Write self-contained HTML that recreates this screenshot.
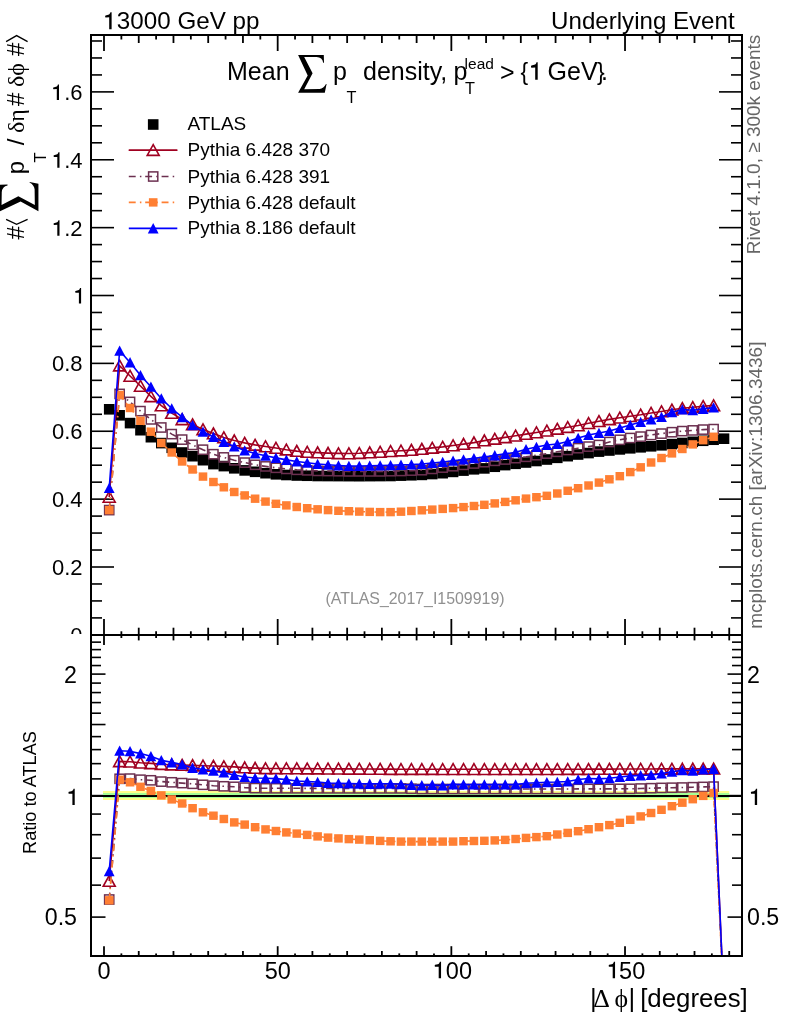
<!DOCTYPE html>
<html><head><meta charset="utf-8"><style>html,body{margin:0;padding:0;background:#fff;}svg{display:block;will-change:transform;}</style></head>
<body><svg width="786" height="1024" viewBox="0 0 786 1024">
<rect width="786" height="1024" fill="#fff"/>
<defs><clipPath id="cTop"><rect x="91.0" y="35.0" width="651.0" height="600.0"/></clipPath>
<clipPath id="cBot"><rect x="91.0" y="635.0" width="651.0" height="321.0"/></clipPath>
<path id="sigma" d="M0,0 L25.7,0 L25.9,7.6 L25.1,7.6 Q24.2,2.4 18.5,2.0 L6.1,1.8 L14.5,18.1 L6.1,34.1 L21.5,33.9 Q25.5,33.4 27.9,29.0 L28.5,29.0 L26.7,37.6 L0,37.6 L9.6,20.3 Z"/>
<path id="one" d="M0,0 L100,0 L100,-704 L50,-704 C40,-655 15,-610 -40,-598 L-150,-568 C-168,-564 -170,-545 -168,-522 C-166,-492 -158,-484 -140,-486 L0,-490 Z"/>
</defs>
<text x="116.86" y="29.2" font-family="Liberation Sans, sans-serif" font-size="24.2">3000 GeV pp</text>
<use href="#one" transform="translate(109.20,29.20) scale(0.0242)"/>
<text x="734.6" y="29.2" font-family="Liberation Sans, sans-serif" font-size="24.1" text-anchor="end">Underlying Event</text>
<text x="227" y="79.8" font-family="Liberation Sans, sans-serif" font-size="25">Mean</text>
<use href="#sigma" x="298.1" y="55.1"/>
<use href="#one" transform="translate(535.20,79.80) scale(0.0250)"/>
<text font-family="Liberation Sans, sans-serif" font-size="25"><tspan x="333" y="79.8">p</tspan><tspan x="346.6" y="103" font-size="16.3">T</tspan><tspan x="363" y="79.8">density,</tspan><tspan x="453.5" y="79.8">p</tspan><tspan x="465.0" y="93.5" font-size="16.3">T</tspan><tspan x="464.6" y="69" font-size="15.5">lead</tspan><tspan x="500.1" y="81.1">&gt;</tspan><tspan x="520.6" y="79.8" font-size="23">{</tspan><tspan x="547.6" y="79.8">GeV</tspan><tspan x="596.9" y="79.8" font-size="23">}</tspan><tspan x="601.0" y="79.8">.</tspan></text>
<line x1="104.00" y1="35.00" x2="104.00" y2="51.00" stroke="#000" stroke-width="1.8" />
<line x1="104.00" y1="635.00" x2="104.00" y2="619.00" stroke="#000" stroke-width="1.8" />
<line x1="104.00" y1="635.00" x2="104.00" y2="645.00" stroke="#000" stroke-width="1.8" />
<line x1="104.00" y1="956.00" x2="104.00" y2="946.20" stroke="#000" stroke-width="1.8" />
<line x1="121.37" y1="35.00" x2="121.37" y2="39.50" stroke="#000" stroke-width="1.8" />
<line x1="121.37" y1="635.00" x2="121.37" y2="631.30" stroke="#000" stroke-width="1.8" />
<line x1="121.37" y1="635.00" x2="121.37" y2="638.00" stroke="#000" stroke-width="1.8" />
<line x1="121.37" y1="956.00" x2="121.37" y2="953.40" stroke="#000" stroke-width="1.8" />
<line x1="138.74" y1="35.00" x2="138.74" y2="43.00" stroke="#000" stroke-width="1.8" />
<line x1="138.74" y1="635.00" x2="138.74" y2="627.70" stroke="#000" stroke-width="1.8" />
<line x1="138.74" y1="635.00" x2="138.74" y2="640.40" stroke="#000" stroke-width="1.8" />
<line x1="138.74" y1="956.00" x2="138.74" y2="951.00" stroke="#000" stroke-width="1.8" />
<line x1="156.10" y1="35.00" x2="156.10" y2="39.50" stroke="#000" stroke-width="1.8" />
<line x1="156.10" y1="635.00" x2="156.10" y2="631.30" stroke="#000" stroke-width="1.8" />
<line x1="156.10" y1="635.00" x2="156.10" y2="638.00" stroke="#000" stroke-width="1.8" />
<line x1="156.10" y1="956.00" x2="156.10" y2="953.40" stroke="#000" stroke-width="1.8" />
<line x1="173.47" y1="35.00" x2="173.47" y2="43.00" stroke="#000" stroke-width="1.8" />
<line x1="173.47" y1="635.00" x2="173.47" y2="627.70" stroke="#000" stroke-width="1.8" />
<line x1="173.47" y1="635.00" x2="173.47" y2="640.40" stroke="#000" stroke-width="1.8" />
<line x1="173.47" y1="956.00" x2="173.47" y2="951.00" stroke="#000" stroke-width="1.8" />
<line x1="190.84" y1="35.00" x2="190.84" y2="39.50" stroke="#000" stroke-width="1.8" />
<line x1="190.84" y1="635.00" x2="190.84" y2="631.30" stroke="#000" stroke-width="1.8" />
<line x1="190.84" y1="635.00" x2="190.84" y2="638.00" stroke="#000" stroke-width="1.8" />
<line x1="190.84" y1="956.00" x2="190.84" y2="953.40" stroke="#000" stroke-width="1.8" />
<line x1="208.20" y1="35.00" x2="208.20" y2="43.00" stroke="#000" stroke-width="1.8" />
<line x1="208.20" y1="635.00" x2="208.20" y2="627.70" stroke="#000" stroke-width="1.8" />
<line x1="208.20" y1="635.00" x2="208.20" y2="640.40" stroke="#000" stroke-width="1.8" />
<line x1="208.20" y1="956.00" x2="208.20" y2="951.00" stroke="#000" stroke-width="1.8" />
<line x1="225.57" y1="35.00" x2="225.57" y2="39.50" stroke="#000" stroke-width="1.8" />
<line x1="225.57" y1="635.00" x2="225.57" y2="631.30" stroke="#000" stroke-width="1.8" />
<line x1="225.57" y1="635.00" x2="225.57" y2="638.00" stroke="#000" stroke-width="1.8" />
<line x1="225.57" y1="956.00" x2="225.57" y2="953.40" stroke="#000" stroke-width="1.8" />
<line x1="242.94" y1="35.00" x2="242.94" y2="43.00" stroke="#000" stroke-width="1.8" />
<line x1="242.94" y1="635.00" x2="242.94" y2="627.70" stroke="#000" stroke-width="1.8" />
<line x1="242.94" y1="635.00" x2="242.94" y2="640.40" stroke="#000" stroke-width="1.8" />
<line x1="242.94" y1="956.00" x2="242.94" y2="951.00" stroke="#000" stroke-width="1.8" />
<line x1="260.31" y1="35.00" x2="260.31" y2="39.50" stroke="#000" stroke-width="1.8" />
<line x1="260.31" y1="635.00" x2="260.31" y2="631.30" stroke="#000" stroke-width="1.8" />
<line x1="260.31" y1="635.00" x2="260.31" y2="638.00" stroke="#000" stroke-width="1.8" />
<line x1="260.31" y1="956.00" x2="260.31" y2="953.40" stroke="#000" stroke-width="1.8" />
<line x1="277.68" y1="35.00" x2="277.68" y2="51.00" stroke="#000" stroke-width="1.8" />
<line x1="277.68" y1="635.00" x2="277.68" y2="619.00" stroke="#000" stroke-width="1.8" />
<line x1="277.68" y1="635.00" x2="277.68" y2="645.00" stroke="#000" stroke-width="1.8" />
<line x1="277.68" y1="956.00" x2="277.68" y2="946.20" stroke="#000" stroke-width="1.8" />
<line x1="295.04" y1="35.00" x2="295.04" y2="39.50" stroke="#000" stroke-width="1.8" />
<line x1="295.04" y1="635.00" x2="295.04" y2="631.30" stroke="#000" stroke-width="1.8" />
<line x1="295.04" y1="635.00" x2="295.04" y2="638.00" stroke="#000" stroke-width="1.8" />
<line x1="295.04" y1="956.00" x2="295.04" y2="953.40" stroke="#000" stroke-width="1.8" />
<line x1="312.41" y1="35.00" x2="312.41" y2="43.00" stroke="#000" stroke-width="1.8" />
<line x1="312.41" y1="635.00" x2="312.41" y2="627.70" stroke="#000" stroke-width="1.8" />
<line x1="312.41" y1="635.00" x2="312.41" y2="640.40" stroke="#000" stroke-width="1.8" />
<line x1="312.41" y1="956.00" x2="312.41" y2="951.00" stroke="#000" stroke-width="1.8" />
<line x1="329.78" y1="35.00" x2="329.78" y2="39.50" stroke="#000" stroke-width="1.8" />
<line x1="329.78" y1="635.00" x2="329.78" y2="631.30" stroke="#000" stroke-width="1.8" />
<line x1="329.78" y1="635.00" x2="329.78" y2="638.00" stroke="#000" stroke-width="1.8" />
<line x1="329.78" y1="956.00" x2="329.78" y2="953.40" stroke="#000" stroke-width="1.8" />
<line x1="347.14" y1="35.00" x2="347.14" y2="43.00" stroke="#000" stroke-width="1.8" />
<line x1="347.14" y1="635.00" x2="347.14" y2="627.70" stroke="#000" stroke-width="1.8" />
<line x1="347.14" y1="635.00" x2="347.14" y2="640.40" stroke="#000" stroke-width="1.8" />
<line x1="347.14" y1="956.00" x2="347.14" y2="951.00" stroke="#000" stroke-width="1.8" />
<line x1="364.51" y1="35.00" x2="364.51" y2="39.50" stroke="#000" stroke-width="1.8" />
<line x1="364.51" y1="635.00" x2="364.51" y2="631.30" stroke="#000" stroke-width="1.8" />
<line x1="364.51" y1="635.00" x2="364.51" y2="638.00" stroke="#000" stroke-width="1.8" />
<line x1="364.51" y1="956.00" x2="364.51" y2="953.40" stroke="#000" stroke-width="1.8" />
<line x1="381.88" y1="35.00" x2="381.88" y2="43.00" stroke="#000" stroke-width="1.8" />
<line x1="381.88" y1="635.00" x2="381.88" y2="627.70" stroke="#000" stroke-width="1.8" />
<line x1="381.88" y1="635.00" x2="381.88" y2="640.40" stroke="#000" stroke-width="1.8" />
<line x1="381.88" y1="956.00" x2="381.88" y2="951.00" stroke="#000" stroke-width="1.8" />
<line x1="399.25" y1="35.00" x2="399.25" y2="39.50" stroke="#000" stroke-width="1.8" />
<line x1="399.25" y1="635.00" x2="399.25" y2="631.30" stroke="#000" stroke-width="1.8" />
<line x1="399.25" y1="635.00" x2="399.25" y2="638.00" stroke="#000" stroke-width="1.8" />
<line x1="399.25" y1="956.00" x2="399.25" y2="953.40" stroke="#000" stroke-width="1.8" />
<line x1="416.62" y1="35.00" x2="416.62" y2="43.00" stroke="#000" stroke-width="1.8" />
<line x1="416.62" y1="635.00" x2="416.62" y2="627.70" stroke="#000" stroke-width="1.8" />
<line x1="416.62" y1="635.00" x2="416.62" y2="640.40" stroke="#000" stroke-width="1.8" />
<line x1="416.62" y1="956.00" x2="416.62" y2="951.00" stroke="#000" stroke-width="1.8" />
<line x1="433.98" y1="35.00" x2="433.98" y2="39.50" stroke="#000" stroke-width="1.8" />
<line x1="433.98" y1="635.00" x2="433.98" y2="631.30" stroke="#000" stroke-width="1.8" />
<line x1="433.98" y1="635.00" x2="433.98" y2="638.00" stroke="#000" stroke-width="1.8" />
<line x1="433.98" y1="956.00" x2="433.98" y2="953.40" stroke="#000" stroke-width="1.8" />
<line x1="451.35" y1="35.00" x2="451.35" y2="51.00" stroke="#000" stroke-width="1.8" />
<line x1="451.35" y1="635.00" x2="451.35" y2="619.00" stroke="#000" stroke-width="1.8" />
<line x1="451.35" y1="635.00" x2="451.35" y2="645.00" stroke="#000" stroke-width="1.8" />
<line x1="451.35" y1="956.00" x2="451.35" y2="946.20" stroke="#000" stroke-width="1.8" />
<line x1="468.72" y1="35.00" x2="468.72" y2="39.50" stroke="#000" stroke-width="1.8" />
<line x1="468.72" y1="635.00" x2="468.72" y2="631.30" stroke="#000" stroke-width="1.8" />
<line x1="468.72" y1="635.00" x2="468.72" y2="638.00" stroke="#000" stroke-width="1.8" />
<line x1="468.72" y1="956.00" x2="468.72" y2="953.40" stroke="#000" stroke-width="1.8" />
<line x1="486.08" y1="35.00" x2="486.08" y2="43.00" stroke="#000" stroke-width="1.8" />
<line x1="486.08" y1="635.00" x2="486.08" y2="627.70" stroke="#000" stroke-width="1.8" />
<line x1="486.08" y1="635.00" x2="486.08" y2="640.40" stroke="#000" stroke-width="1.8" />
<line x1="486.08" y1="956.00" x2="486.08" y2="951.00" stroke="#000" stroke-width="1.8" />
<line x1="503.45" y1="35.00" x2="503.45" y2="39.50" stroke="#000" stroke-width="1.8" />
<line x1="503.45" y1="635.00" x2="503.45" y2="631.30" stroke="#000" stroke-width="1.8" />
<line x1="503.45" y1="635.00" x2="503.45" y2="638.00" stroke="#000" stroke-width="1.8" />
<line x1="503.45" y1="956.00" x2="503.45" y2="953.40" stroke="#000" stroke-width="1.8" />
<line x1="520.82" y1="35.00" x2="520.82" y2="43.00" stroke="#000" stroke-width="1.8" />
<line x1="520.82" y1="635.00" x2="520.82" y2="627.70" stroke="#000" stroke-width="1.8" />
<line x1="520.82" y1="635.00" x2="520.82" y2="640.40" stroke="#000" stroke-width="1.8" />
<line x1="520.82" y1="956.00" x2="520.82" y2="951.00" stroke="#000" stroke-width="1.8" />
<line x1="538.19" y1="35.00" x2="538.19" y2="39.50" stroke="#000" stroke-width="1.8" />
<line x1="538.19" y1="635.00" x2="538.19" y2="631.30" stroke="#000" stroke-width="1.8" />
<line x1="538.19" y1="635.00" x2="538.19" y2="638.00" stroke="#000" stroke-width="1.8" />
<line x1="538.19" y1="956.00" x2="538.19" y2="953.40" stroke="#000" stroke-width="1.8" />
<line x1="555.56" y1="35.00" x2="555.56" y2="43.00" stroke="#000" stroke-width="1.8" />
<line x1="555.56" y1="635.00" x2="555.56" y2="627.70" stroke="#000" stroke-width="1.8" />
<line x1="555.56" y1="635.00" x2="555.56" y2="640.40" stroke="#000" stroke-width="1.8" />
<line x1="555.56" y1="956.00" x2="555.56" y2="951.00" stroke="#000" stroke-width="1.8" />
<line x1="572.92" y1="35.00" x2="572.92" y2="39.50" stroke="#000" stroke-width="1.8" />
<line x1="572.92" y1="635.00" x2="572.92" y2="631.30" stroke="#000" stroke-width="1.8" />
<line x1="572.92" y1="635.00" x2="572.92" y2="638.00" stroke="#000" stroke-width="1.8" />
<line x1="572.92" y1="956.00" x2="572.92" y2="953.40" stroke="#000" stroke-width="1.8" />
<line x1="590.29" y1="35.00" x2="590.29" y2="43.00" stroke="#000" stroke-width="1.8" />
<line x1="590.29" y1="635.00" x2="590.29" y2="627.70" stroke="#000" stroke-width="1.8" />
<line x1="590.29" y1="635.00" x2="590.29" y2="640.40" stroke="#000" stroke-width="1.8" />
<line x1="590.29" y1="956.00" x2="590.29" y2="951.00" stroke="#000" stroke-width="1.8" />
<line x1="607.66" y1="35.00" x2="607.66" y2="39.50" stroke="#000" stroke-width="1.8" />
<line x1="607.66" y1="635.00" x2="607.66" y2="631.30" stroke="#000" stroke-width="1.8" />
<line x1="607.66" y1="635.00" x2="607.66" y2="638.00" stroke="#000" stroke-width="1.8" />
<line x1="607.66" y1="956.00" x2="607.66" y2="953.40" stroke="#000" stroke-width="1.8" />
<line x1="625.02" y1="35.00" x2="625.02" y2="51.00" stroke="#000" stroke-width="1.8" />
<line x1="625.02" y1="635.00" x2="625.02" y2="619.00" stroke="#000" stroke-width="1.8" />
<line x1="625.02" y1="635.00" x2="625.02" y2="645.00" stroke="#000" stroke-width="1.8" />
<line x1="625.02" y1="956.00" x2="625.02" y2="946.20" stroke="#000" stroke-width="1.8" />
<line x1="642.39" y1="35.00" x2="642.39" y2="39.50" stroke="#000" stroke-width="1.8" />
<line x1="642.39" y1="635.00" x2="642.39" y2="631.30" stroke="#000" stroke-width="1.8" />
<line x1="642.39" y1="635.00" x2="642.39" y2="638.00" stroke="#000" stroke-width="1.8" />
<line x1="642.39" y1="956.00" x2="642.39" y2="953.40" stroke="#000" stroke-width="1.8" />
<line x1="659.76" y1="35.00" x2="659.76" y2="43.00" stroke="#000" stroke-width="1.8" />
<line x1="659.76" y1="635.00" x2="659.76" y2="627.70" stroke="#000" stroke-width="1.8" />
<line x1="659.76" y1="635.00" x2="659.76" y2="640.40" stroke="#000" stroke-width="1.8" />
<line x1="659.76" y1="956.00" x2="659.76" y2="951.00" stroke="#000" stroke-width="1.8" />
<line x1="677.13" y1="35.00" x2="677.13" y2="39.50" stroke="#000" stroke-width="1.8" />
<line x1="677.13" y1="635.00" x2="677.13" y2="631.30" stroke="#000" stroke-width="1.8" />
<line x1="677.13" y1="635.00" x2="677.13" y2="638.00" stroke="#000" stroke-width="1.8" />
<line x1="677.13" y1="956.00" x2="677.13" y2="953.40" stroke="#000" stroke-width="1.8" />
<line x1="694.50" y1="35.00" x2="694.50" y2="43.00" stroke="#000" stroke-width="1.8" />
<line x1="694.50" y1="635.00" x2="694.50" y2="627.70" stroke="#000" stroke-width="1.8" />
<line x1="694.50" y1="635.00" x2="694.50" y2="640.40" stroke="#000" stroke-width="1.8" />
<line x1="694.50" y1="956.00" x2="694.50" y2="951.00" stroke="#000" stroke-width="1.8" />
<line x1="711.86" y1="35.00" x2="711.86" y2="39.50" stroke="#000" stroke-width="1.8" />
<line x1="711.86" y1="635.00" x2="711.86" y2="631.30" stroke="#000" stroke-width="1.8" />
<line x1="711.86" y1="635.00" x2="711.86" y2="638.00" stroke="#000" stroke-width="1.8" />
<line x1="711.86" y1="956.00" x2="711.86" y2="953.40" stroke="#000" stroke-width="1.8" />
<line x1="729.23" y1="35.00" x2="729.23" y2="43.00" stroke="#000" stroke-width="1.8" />
<line x1="729.23" y1="635.00" x2="729.23" y2="627.70" stroke="#000" stroke-width="1.8" />
<line x1="729.23" y1="635.00" x2="729.23" y2="640.40" stroke="#000" stroke-width="1.8" />
<line x1="729.23" y1="956.00" x2="729.23" y2="951.00" stroke="#000" stroke-width="1.8" />
<line x1="91.00" y1="634.87" x2="114.00" y2="634.87" stroke="#000" stroke-width="1.6" />
<line x1="742.00" y1="634.87" x2="719.00" y2="634.87" stroke="#000" stroke-width="1.6" />
<line x1="91.00" y1="617.90" x2="102.00" y2="617.90" stroke="#000" stroke-width="1.6" />
<line x1="742.00" y1="617.90" x2="731.00" y2="617.90" stroke="#000" stroke-width="1.6" />
<line x1="91.00" y1="600.93" x2="102.00" y2="600.93" stroke="#000" stroke-width="1.6" />
<line x1="742.00" y1="600.93" x2="731.00" y2="600.93" stroke="#000" stroke-width="1.6" />
<line x1="91.00" y1="583.97" x2="102.00" y2="583.97" stroke="#000" stroke-width="1.6" />
<line x1="742.00" y1="583.97" x2="731.00" y2="583.97" stroke="#000" stroke-width="1.6" />
<line x1="91.00" y1="567.00" x2="114.00" y2="567.00" stroke="#000" stroke-width="1.6" />
<line x1="742.00" y1="567.00" x2="719.00" y2="567.00" stroke="#000" stroke-width="1.6" />
<line x1="91.00" y1="550.03" x2="102.00" y2="550.03" stroke="#000" stroke-width="1.6" />
<line x1="742.00" y1="550.03" x2="731.00" y2="550.03" stroke="#000" stroke-width="1.6" />
<line x1="91.00" y1="533.06" x2="102.00" y2="533.06" stroke="#000" stroke-width="1.6" />
<line x1="742.00" y1="533.06" x2="731.00" y2="533.06" stroke="#000" stroke-width="1.6" />
<line x1="91.00" y1="516.09" x2="102.00" y2="516.09" stroke="#000" stroke-width="1.6" />
<line x1="742.00" y1="516.09" x2="731.00" y2="516.09" stroke="#000" stroke-width="1.6" />
<line x1="91.00" y1="499.13" x2="114.00" y2="499.13" stroke="#000" stroke-width="1.6" />
<line x1="742.00" y1="499.13" x2="719.00" y2="499.13" stroke="#000" stroke-width="1.6" />
<line x1="91.00" y1="482.16" x2="102.00" y2="482.16" stroke="#000" stroke-width="1.6" />
<line x1="742.00" y1="482.16" x2="731.00" y2="482.16" stroke="#000" stroke-width="1.6" />
<line x1="91.00" y1="465.19" x2="102.00" y2="465.19" stroke="#000" stroke-width="1.6" />
<line x1="742.00" y1="465.19" x2="731.00" y2="465.19" stroke="#000" stroke-width="1.6" />
<line x1="91.00" y1="448.22" x2="102.00" y2="448.22" stroke="#000" stroke-width="1.6" />
<line x1="742.00" y1="448.22" x2="731.00" y2="448.22" stroke="#000" stroke-width="1.6" />
<line x1="91.00" y1="431.25" x2="114.00" y2="431.25" stroke="#000" stroke-width="1.6" />
<line x1="742.00" y1="431.25" x2="719.00" y2="431.25" stroke="#000" stroke-width="1.6" />
<line x1="91.00" y1="414.29" x2="102.00" y2="414.29" stroke="#000" stroke-width="1.6" />
<line x1="742.00" y1="414.29" x2="731.00" y2="414.29" stroke="#000" stroke-width="1.6" />
<line x1="91.00" y1="397.32" x2="102.00" y2="397.32" stroke="#000" stroke-width="1.6" />
<line x1="742.00" y1="397.32" x2="731.00" y2="397.32" stroke="#000" stroke-width="1.6" />
<line x1="91.00" y1="380.35" x2="102.00" y2="380.35" stroke="#000" stroke-width="1.6" />
<line x1="742.00" y1="380.35" x2="731.00" y2="380.35" stroke="#000" stroke-width="1.6" />
<line x1="91.00" y1="363.38" x2="114.00" y2="363.38" stroke="#000" stroke-width="1.6" />
<line x1="742.00" y1="363.38" x2="719.00" y2="363.38" stroke="#000" stroke-width="1.6" />
<line x1="91.00" y1="346.41" x2="102.00" y2="346.41" stroke="#000" stroke-width="1.6" />
<line x1="742.00" y1="346.41" x2="731.00" y2="346.41" stroke="#000" stroke-width="1.6" />
<line x1="91.00" y1="329.45" x2="102.00" y2="329.45" stroke="#000" stroke-width="1.6" />
<line x1="742.00" y1="329.45" x2="731.00" y2="329.45" stroke="#000" stroke-width="1.6" />
<line x1="91.00" y1="312.48" x2="102.00" y2="312.48" stroke="#000" stroke-width="1.6" />
<line x1="742.00" y1="312.48" x2="731.00" y2="312.48" stroke="#000" stroke-width="1.6" />
<line x1="91.00" y1="295.51" x2="114.00" y2="295.51" stroke="#000" stroke-width="1.6" />
<line x1="742.00" y1="295.51" x2="719.00" y2="295.51" stroke="#000" stroke-width="1.6" />
<line x1="91.00" y1="278.54" x2="102.00" y2="278.54" stroke="#000" stroke-width="1.6" />
<line x1="742.00" y1="278.54" x2="731.00" y2="278.54" stroke="#000" stroke-width="1.6" />
<line x1="91.00" y1="261.57" x2="102.00" y2="261.57" stroke="#000" stroke-width="1.6" />
<line x1="742.00" y1="261.57" x2="731.00" y2="261.57" stroke="#000" stroke-width="1.6" />
<line x1="91.00" y1="244.61" x2="102.00" y2="244.61" stroke="#000" stroke-width="1.6" />
<line x1="742.00" y1="244.61" x2="731.00" y2="244.61" stroke="#000" stroke-width="1.6" />
<line x1="91.00" y1="227.64" x2="114.00" y2="227.64" stroke="#000" stroke-width="1.6" />
<line x1="742.00" y1="227.64" x2="719.00" y2="227.64" stroke="#000" stroke-width="1.6" />
<line x1="91.00" y1="210.67" x2="102.00" y2="210.67" stroke="#000" stroke-width="1.6" />
<line x1="742.00" y1="210.67" x2="731.00" y2="210.67" stroke="#000" stroke-width="1.6" />
<line x1="91.00" y1="193.70" x2="102.00" y2="193.70" stroke="#000" stroke-width="1.6" />
<line x1="742.00" y1="193.70" x2="731.00" y2="193.70" stroke="#000" stroke-width="1.6" />
<line x1="91.00" y1="176.73" x2="102.00" y2="176.73" stroke="#000" stroke-width="1.6" />
<line x1="742.00" y1="176.73" x2="731.00" y2="176.73" stroke="#000" stroke-width="1.6" />
<line x1="91.00" y1="159.77" x2="114.00" y2="159.77" stroke="#000" stroke-width="1.6" />
<line x1="742.00" y1="159.77" x2="719.00" y2="159.77" stroke="#000" stroke-width="1.6" />
<line x1="91.00" y1="142.80" x2="102.00" y2="142.80" stroke="#000" stroke-width="1.6" />
<line x1="742.00" y1="142.80" x2="731.00" y2="142.80" stroke="#000" stroke-width="1.6" />
<line x1="91.00" y1="125.83" x2="102.00" y2="125.83" stroke="#000" stroke-width="1.6" />
<line x1="742.00" y1="125.83" x2="731.00" y2="125.83" stroke="#000" stroke-width="1.6" />
<line x1="91.00" y1="108.86" x2="102.00" y2="108.86" stroke="#000" stroke-width="1.6" />
<line x1="742.00" y1="108.86" x2="731.00" y2="108.86" stroke="#000" stroke-width="1.6" />
<line x1="91.00" y1="91.89" x2="114.00" y2="91.89" stroke="#000" stroke-width="1.6" />
<line x1="742.00" y1="91.89" x2="719.00" y2="91.89" stroke="#000" stroke-width="1.6" />
<line x1="91.00" y1="74.93" x2="102.00" y2="74.93" stroke="#000" stroke-width="1.6" />
<line x1="742.00" y1="74.93" x2="731.00" y2="74.93" stroke="#000" stroke-width="1.6" />
<line x1="91.00" y1="57.96" x2="102.00" y2="57.96" stroke="#000" stroke-width="1.6" />
<line x1="742.00" y1="57.96" x2="731.00" y2="57.96" stroke="#000" stroke-width="1.6" />
<line x1="91.00" y1="40.99" x2="102.00" y2="40.99" stroke="#000" stroke-width="1.6" />
<line x1="742.00" y1="40.99" x2="731.00" y2="40.99" stroke="#000" stroke-width="1.6" />
<line x1="91.00" y1="956.21" x2="101.00" y2="956.21" stroke="#000" stroke-width="1.6" />
<line x1="742.00" y1="956.21" x2="732.00" y2="956.21" stroke="#000" stroke-width="1.6" />
<line x1="91.00" y1="917.10" x2="105.50" y2="917.10" stroke="#000" stroke-width="1.6" />
<line x1="742.00" y1="917.10" x2="727.50" y2="917.10" stroke="#000" stroke-width="1.6" />
<line x1="91.00" y1="885.14" x2="101.00" y2="885.14" stroke="#000" stroke-width="1.6" />
<line x1="742.00" y1="885.14" x2="732.00" y2="885.14" stroke="#000" stroke-width="1.6" />
<line x1="91.00" y1="858.12" x2="101.00" y2="858.12" stroke="#000" stroke-width="1.6" />
<line x1="742.00" y1="858.12" x2="732.00" y2="858.12" stroke="#000" stroke-width="1.6" />
<line x1="91.00" y1="834.71" x2="101.00" y2="834.71" stroke="#000" stroke-width="1.6" />
<line x1="742.00" y1="834.71" x2="732.00" y2="834.71" stroke="#000" stroke-width="1.6" />
<line x1="91.00" y1="814.07" x2="101.00" y2="814.07" stroke="#000" stroke-width="1.6" />
<line x1="742.00" y1="814.07" x2="732.00" y2="814.07" stroke="#000" stroke-width="1.6" />
<line x1="91.00" y1="795.60" x2="105.50" y2="795.60" stroke="#000" stroke-width="1.6" />
<line x1="742.00" y1="795.60" x2="727.50" y2="795.60" stroke="#000" stroke-width="1.6" />
<line x1="91.00" y1="778.89" x2="101.00" y2="778.89" stroke="#000" stroke-width="1.6" />
<line x1="742.00" y1="778.89" x2="732.00" y2="778.89" stroke="#000" stroke-width="1.6" />
<line x1="91.00" y1="763.64" x2="101.00" y2="763.64" stroke="#000" stroke-width="1.6" />
<line x1="742.00" y1="763.64" x2="732.00" y2="763.64" stroke="#000" stroke-width="1.6" />
<line x1="91.00" y1="749.61" x2="101.00" y2="749.61" stroke="#000" stroke-width="1.6" />
<line x1="742.00" y1="749.61" x2="732.00" y2="749.61" stroke="#000" stroke-width="1.6" />
<line x1="91.00" y1="736.62" x2="101.00" y2="736.62" stroke="#000" stroke-width="1.6" />
<line x1="742.00" y1="736.62" x2="732.00" y2="736.62" stroke="#000" stroke-width="1.6" />
<line x1="91.00" y1="724.53" x2="105.50" y2="724.53" stroke="#000" stroke-width="1.6" />
<line x1="742.00" y1="724.53" x2="727.50" y2="724.53" stroke="#000" stroke-width="1.6" />
<line x1="91.00" y1="713.22" x2="101.00" y2="713.22" stroke="#000" stroke-width="1.6" />
<line x1="742.00" y1="713.22" x2="732.00" y2="713.22" stroke="#000" stroke-width="1.6" />
<line x1="91.00" y1="702.59" x2="101.00" y2="702.59" stroke="#000" stroke-width="1.6" />
<line x1="742.00" y1="702.59" x2="732.00" y2="702.59" stroke="#000" stroke-width="1.6" />
<line x1="91.00" y1="692.57" x2="101.00" y2="692.57" stroke="#000" stroke-width="1.6" />
<line x1="742.00" y1="692.57" x2="732.00" y2="692.57" stroke="#000" stroke-width="1.6" />
<line x1="91.00" y1="683.10" x2="101.00" y2="683.10" stroke="#000" stroke-width="1.6" />
<line x1="742.00" y1="683.10" x2="732.00" y2="683.10" stroke="#000" stroke-width="1.6" />
<line x1="91.00" y1="674.10" x2="105.50" y2="674.10" stroke="#000" stroke-width="1.6" />
<line x1="742.00" y1="674.10" x2="727.50" y2="674.10" stroke="#000" stroke-width="1.6" />
<line x1="91.00" y1="665.55" x2="101.00" y2="665.55" stroke="#000" stroke-width="1.6" />
<line x1="742.00" y1="665.55" x2="732.00" y2="665.55" stroke="#000" stroke-width="1.6" />
<line x1="91.00" y1="657.40" x2="101.00" y2="657.40" stroke="#000" stroke-width="1.6" />
<line x1="742.00" y1="657.40" x2="732.00" y2="657.40" stroke="#000" stroke-width="1.6" />
<line x1="91.00" y1="649.61" x2="101.00" y2="649.61" stroke="#000" stroke-width="1.6" />
<line x1="742.00" y1="649.61" x2="732.00" y2="649.61" stroke="#000" stroke-width="1.6" />
<line x1="91.00" y1="642.15" x2="101.00" y2="642.15" stroke="#000" stroke-width="1.6" />
<line x1="742.00" y1="642.15" x2="732.00" y2="642.15" stroke="#000" stroke-width="1.6" />
<line x1="91.00" y1="634.99" x2="101.00" y2="634.99" stroke="#000" stroke-width="1.6" />
<line x1="742.00" y1="634.99" x2="732.00" y2="634.99" stroke="#000" stroke-width="1.6" />
<rect x="103.0" y="791" width="626.2" height="9" fill="#ffff8c"/>
<rect x="103.0" y="793" width="626.2" height="5" fill="#a5ff96"/>
<line x1="91.00" y1="796.00" x2="742.00" y2="796.00" stroke="#000" stroke-width="2" />
<g clip-path="url(#cTop)">
<rect x="103.91" y="404.00" width="10.6" height="10.6" fill="#000"/>
<rect x="114.33" y="410.00" width="10.6" height="10.6" fill="#000"/>
<rect x="124.75" y="417.80" width="10.6" height="10.6" fill="#000"/>
<rect x="135.17" y="424.90" width="10.6" height="10.6" fill="#000"/>
<rect x="145.59" y="431.90" width="10.6" height="10.6" fill="#000"/>
<rect x="156.01" y="437.80" width="10.6" height="10.6" fill="#000"/>
<rect x="166.43" y="442.50" width="10.6" height="10.6" fill="#000"/>
<rect x="176.85" y="447.20" width="10.6" height="10.6" fill="#000"/>
<rect x="187.27" y="450.90" width="10.6" height="10.6" fill="#000"/>
<rect x="197.69" y="454.90" width="10.6" height="10.6" fill="#000"/>
<rect x="208.12" y="458.80" width="10.6" height="10.6" fill="#000"/>
<rect x="218.54" y="460.80" width="10.6" height="10.6" fill="#000"/>
<rect x="228.96" y="463.00" width="10.6" height="10.6" fill="#000"/>
<rect x="239.38" y="465.10" width="10.6" height="10.6" fill="#000"/>
<rect x="249.80" y="466.50" width="10.6" height="10.6" fill="#000"/>
<rect x="260.22" y="467.90" width="10.6" height="10.6" fill="#000"/>
<rect x="270.64" y="469.00" width="10.6" height="10.6" fill="#000"/>
<rect x="281.06" y="469.70" width="10.6" height="10.6" fill="#000"/>
<rect x="291.48" y="470.20" width="10.6" height="10.6" fill="#000"/>
<rect x="301.90" y="470.45" width="10.6" height="10.6" fill="#000"/>
<rect x="312.32" y="470.70" width="10.6" height="10.6" fill="#000"/>
<rect x="322.74" y="470.75" width="10.6" height="10.6" fill="#000"/>
<rect x="333.16" y="470.80" width="10.6" height="10.6" fill="#000"/>
<rect x="343.58" y="470.85" width="10.6" height="10.6" fill="#000"/>
<rect x="354.00" y="470.90" width="10.6" height="10.6" fill="#000"/>
<rect x="364.42" y="470.83" width="10.6" height="10.6" fill="#000"/>
<rect x="374.84" y="470.77" width="10.6" height="10.6" fill="#000"/>
<rect x="385.26" y="470.70" width="10.6" height="10.6" fill="#000"/>
<rect x="395.68" y="470.33" width="10.6" height="10.6" fill="#000"/>
<rect x="406.10" y="469.97" width="10.6" height="10.6" fill="#000"/>
<rect x="416.53" y="469.60" width="10.6" height="10.6" fill="#000"/>
<rect x="426.95" y="468.75" width="10.6" height="10.6" fill="#000"/>
<rect x="437.37" y="467.90" width="10.6" height="10.6" fill="#000"/>
<rect x="447.79" y="466.60" width="10.6" height="10.6" fill="#000"/>
<rect x="458.21" y="465.30" width="10.6" height="10.6" fill="#000"/>
<rect x="468.63" y="464.00" width="10.6" height="10.6" fill="#000"/>
<rect x="479.05" y="463.10" width="10.6" height="10.6" fill="#000"/>
<rect x="489.47" y="461.45" width="10.6" height="10.6" fill="#000"/>
<rect x="499.89" y="459.80" width="10.6" height="10.6" fill="#000"/>
<rect x="510.31" y="458.50" width="10.6" height="10.6" fill="#000"/>
<rect x="520.73" y="457.20" width="10.6" height="10.6" fill="#000"/>
<rect x="531.15" y="455.70" width="10.6" height="10.6" fill="#000"/>
<rect x="541.57" y="454.20" width="10.6" height="10.6" fill="#000"/>
<rect x="551.99" y="452.53" width="10.6" height="10.6" fill="#000"/>
<rect x="562.41" y="450.87" width="10.6" height="10.6" fill="#000"/>
<rect x="572.83" y="449.20" width="10.6" height="10.6" fill="#000"/>
<rect x="583.25" y="447.75" width="10.6" height="10.6" fill="#000"/>
<rect x="593.67" y="446.30" width="10.6" height="10.6" fill="#000"/>
<rect x="604.09" y="445.20" width="10.6" height="10.6" fill="#000"/>
<rect x="614.51" y="444.10" width="10.6" height="10.6" fill="#000"/>
<rect x="624.94" y="443.00" width="10.6" height="10.6" fill="#000"/>
<rect x="635.36" y="442.00" width="10.6" height="10.6" fill="#000"/>
<rect x="645.78" y="441.00" width="10.6" height="10.6" fill="#000"/>
<rect x="656.20" y="440.00" width="10.6" height="10.6" fill="#000"/>
<rect x="666.62" y="438.83" width="10.6" height="10.6" fill="#000"/>
<rect x="677.04" y="437.67" width="10.6" height="10.6" fill="#000"/>
<rect x="687.46" y="436.50" width="10.6" height="10.6" fill="#000"/>
<rect x="697.88" y="435.47" width="10.6" height="10.6" fill="#000"/>
<rect x="708.30" y="434.43" width="10.6" height="10.6" fill="#000"/>
<rect x="718.72" y="433.40" width="10.6" height="10.6" fill="#000"/>
<path d="M109.21,491.40 L115.21,502.20 L103.21,502.20 Z" fill="none" stroke="#a00020" stroke-width="1.6"/>
<path d="M119.63,360.10 L125.63,370.90 L113.63,370.90 Z" fill="none" stroke="#a00020" stroke-width="1.6"/>
<path d="M130.05,370.40 L136.05,381.20 L124.05,381.20 Z" fill="none" stroke="#a00020" stroke-width="1.6"/>
<path d="M140.47,380.40 L146.47,391.20 L134.47,391.20 Z" fill="none" stroke="#a00020" stroke-width="1.6"/>
<path d="M150.89,390.80 L156.89,401.60 L144.89,401.60 Z" fill="none" stroke="#a00020" stroke-width="1.6"/>
<path d="M161.31,400.00 L167.31,410.80 L155.31,410.80 Z" fill="none" stroke="#a00020" stroke-width="1.6"/>
<path d="M171.73,407.50 L177.73,418.30 L165.73,418.30 Z" fill="none" stroke="#a00020" stroke-width="1.6"/>
<path d="M182.15,413.80 L188.15,424.60 L176.15,424.60 Z" fill="none" stroke="#a00020" stroke-width="1.6"/>
<path d="M192.57,418.90 L198.57,429.70 L186.57,429.70 Z" fill="none" stroke="#a00020" stroke-width="1.6"/>
<path d="M202.99,423.80 L208.99,434.60 L196.99,434.60 Z" fill="none" stroke="#a00020" stroke-width="1.6"/>
<path d="M213.42,428.00 L219.42,438.80 L207.42,438.80 Z" fill="none" stroke="#a00020" stroke-width="1.6"/>
<path d="M223.84,431.80 L229.84,442.60 L217.84,442.60 Z" fill="none" stroke="#a00020" stroke-width="1.6"/>
<path d="M234.26,435.00 L240.26,445.80 L228.26,445.80 Z" fill="none" stroke="#a00020" stroke-width="1.6"/>
<path d="M244.68,437.30 L250.68,448.10 L238.68,448.10 Z" fill="none" stroke="#a00020" stroke-width="1.6"/>
<path d="M255.10,439.30 L261.10,450.10 L249.10,450.10 Z" fill="none" stroke="#a00020" stroke-width="1.6"/>
<path d="M265.52,440.90 L271.52,451.70 L259.52,451.70 Z" fill="none" stroke="#a00020" stroke-width="1.6"/>
<path d="M275.94,442.40 L281.94,453.20 L269.94,453.20 Z" fill="none" stroke="#a00020" stroke-width="1.6"/>
<path d="M286.36,444.10 L292.36,454.90 L280.36,454.90 Z" fill="none" stroke="#a00020" stroke-width="1.6"/>
<path d="M296.78,445.50 L302.78,456.30 L290.78,456.30 Z" fill="none" stroke="#a00020" stroke-width="1.6"/>
<path d="M307.20,446.40 L313.20,457.20 L301.20,457.20 Z" fill="none" stroke="#a00020" stroke-width="1.6"/>
<path d="M317.62,447.00 L323.62,457.80 L311.62,457.80 Z" fill="none" stroke="#a00020" stroke-width="1.6"/>
<path d="M328.04,447.50 L334.04,458.30 L322.04,458.30 Z" fill="none" stroke="#a00020" stroke-width="1.6"/>
<path d="M338.46,447.80 L344.46,458.60 L332.46,458.60 Z" fill="none" stroke="#a00020" stroke-width="1.6"/>
<path d="M348.88,447.90 L354.88,458.70 L342.88,458.70 Z" fill="none" stroke="#a00020" stroke-width="1.6"/>
<path d="M359.30,447.60 L365.30,458.40 L353.30,458.40 Z" fill="none" stroke="#a00020" stroke-width="1.6"/>
<path d="M369.72,447.00 L375.72,457.80 L363.72,457.80 Z" fill="none" stroke="#a00020" stroke-width="1.6"/>
<path d="M380.14,446.40 L386.14,457.20 L374.14,457.20 Z" fill="none" stroke="#a00020" stroke-width="1.6"/>
<path d="M390.56,445.70 L396.56,456.50 L384.56,456.50 Z" fill="none" stroke="#a00020" stroke-width="1.6"/>
<path d="M400.98,445.10 L406.98,455.90 L394.98,455.90 Z" fill="none" stroke="#a00020" stroke-width="1.6"/>
<path d="M411.40,444.50 L417.40,455.30 L405.40,455.30 Z" fill="none" stroke="#a00020" stroke-width="1.6"/>
<path d="M421.83,443.50 L427.83,454.30 L415.83,454.30 Z" fill="none" stroke="#a00020" stroke-width="1.6"/>
<path d="M432.25,442.30 L438.25,453.10 L426.25,453.10 Z" fill="none" stroke="#a00020" stroke-width="1.6"/>
<path d="M442.67,441.30 L448.67,452.10 L436.67,452.10 Z" fill="none" stroke="#a00020" stroke-width="1.6"/>
<path d="M453.09,439.90 L459.09,450.70 L447.09,450.70 Z" fill="none" stroke="#a00020" stroke-width="1.6"/>
<path d="M463.51,438.50 L469.51,449.30 L457.51,449.30 Z" fill="none" stroke="#a00020" stroke-width="1.6"/>
<path d="M473.93,437.00 L479.93,447.80 L467.93,447.80 Z" fill="none" stroke="#a00020" stroke-width="1.6"/>
<path d="M484.35,435.00 L490.35,445.80 L478.35,445.80 Z" fill="none" stroke="#a00020" stroke-width="1.6"/>
<path d="M494.77,433.30 L500.77,444.10 L488.77,444.10 Z" fill="none" stroke="#a00020" stroke-width="1.6"/>
<path d="M505.19,431.80 L511.19,442.60 L499.19,442.60 Z" fill="none" stroke="#a00020" stroke-width="1.6"/>
<path d="M515.61,430.20 L521.61,441.00 L509.61,441.00 Z" fill="none" stroke="#a00020" stroke-width="1.6"/>
<path d="M526.03,428.50 L532.03,439.30 L520.03,439.30 Z" fill="none" stroke="#a00020" stroke-width="1.6"/>
<path d="M536.45,426.90 L542.45,437.70 L530.45,437.70 Z" fill="none" stroke="#a00020" stroke-width="1.6"/>
<path d="M546.87,425.20 L552.87,436.00 L540.87,436.00 Z" fill="none" stroke="#a00020" stroke-width="1.6"/>
<path d="M557.29,423.30 L563.29,434.10 L551.29,434.10 Z" fill="none" stroke="#a00020" stroke-width="1.6"/>
<path d="M567.71,421.60 L573.71,432.40 L561.71,432.40 Z" fill="none" stroke="#a00020" stroke-width="1.6"/>
<path d="M578.13,419.90 L584.13,430.70 L572.13,430.70 Z" fill="none" stroke="#a00020" stroke-width="1.6"/>
<path d="M588.55,417.70 L594.55,428.50 L582.55,428.50 Z" fill="none" stroke="#a00020" stroke-width="1.6"/>
<path d="M598.97,415.70 L604.97,426.50 L592.97,426.50 Z" fill="none" stroke="#a00020" stroke-width="1.6"/>
<path d="M609.39,413.80 L615.39,424.60 L603.39,424.60 Z" fill="none" stroke="#a00020" stroke-width="1.6"/>
<path d="M619.81,412.20 L625.81,423.00 L613.81,423.00 Z" fill="none" stroke="#a00020" stroke-width="1.6"/>
<path d="M630.24,410.70 L636.24,421.50 L624.24,421.50 Z" fill="none" stroke="#a00020" stroke-width="1.6"/>
<path d="M640.66,409.20 L646.66,420.00 L634.66,420.00 Z" fill="none" stroke="#a00020" stroke-width="1.6"/>
<path d="M651.08,407.40 L657.08,418.20 L645.08,418.20 Z" fill="none" stroke="#a00020" stroke-width="1.6"/>
<path d="M661.50,405.90 L667.50,416.70 L655.50,416.70 Z" fill="none" stroke="#a00020" stroke-width="1.6"/>
<path d="M671.92,404.20 L677.92,415.00 L665.92,415.00 Z" fill="none" stroke="#a00020" stroke-width="1.6"/>
<path d="M682.34,402.70 L688.34,413.50 L676.34,413.50 Z" fill="none" stroke="#a00020" stroke-width="1.6"/>
<path d="M692.76,401.70 L698.76,412.50 L686.76,412.50 Z" fill="none" stroke="#a00020" stroke-width="1.6"/>
<path d="M703.18,400.60 L709.18,411.40 L697.18,411.40 Z" fill="none" stroke="#a00020" stroke-width="1.6"/>
<path d="M713.60,399.80 L719.60,410.60 L707.60,410.60 Z" fill="none" stroke="#a00020" stroke-width="1.6"/>
<polyline points="109.21,497.00 119.63,365.70 130.05,376.00 140.47,386.00 150.89,396.40 161.31,405.60 171.73,413.10 182.15,419.40 192.57,424.50 202.99,429.40 213.42,433.60 223.84,437.40 234.26,440.60 244.68,442.90 255.10,444.90 265.52,446.50 275.94,448.00 286.36,449.70 296.78,451.10 307.20,452.00 317.62,452.60 328.04,453.10 338.46,453.40 348.88,453.50 359.30,453.20 369.72,452.60 380.14,452.00 390.56,451.30 400.98,450.70 411.40,450.10 421.83,449.10 432.25,447.90 442.67,446.90 453.09,445.50 463.51,444.10 473.93,442.60 484.35,440.60 494.77,438.90 505.19,437.40 515.61,435.80 526.03,434.10 536.45,432.50 546.87,430.80 557.29,428.90 567.71,427.20 578.13,425.50 588.55,423.30 598.97,421.30 609.39,419.40 619.81,417.80 630.24,416.30 640.66,414.80 651.08,413.00 661.50,411.50 671.92,409.80 682.34,408.30 692.76,407.30 703.18,406.20 713.60,405.40" fill="none" stroke="#a00020" stroke-width="1.6" />
<rect x="104.61" y="505.50" width="9.2" height="9.2" fill="none" stroke="#6c3050" stroke-width="1.5"/>
<rect x="115.03" y="389.30" width="9.2" height="9.2" fill="none" stroke="#6c3050" stroke-width="1.5"/>
<rect x="125.45" y="397.30" width="9.2" height="9.2" fill="none" stroke="#6c3050" stroke-width="1.5"/>
<rect x="135.87" y="406.50" width="9.2" height="9.2" fill="none" stroke="#6c3050" stroke-width="1.5"/>
<rect x="146.29" y="414.80" width="9.2" height="9.2" fill="none" stroke="#6c3050" stroke-width="1.5"/>
<rect x="156.71" y="422.90" width="9.2" height="9.2" fill="none" stroke="#6c3050" stroke-width="1.5"/>
<rect x="167.13" y="429.50" width="9.2" height="9.2" fill="none" stroke="#6c3050" stroke-width="1.5"/>
<rect x="177.55" y="435.00" width="9.2" height="9.2" fill="none" stroke="#6c3050" stroke-width="1.5"/>
<rect x="187.97" y="440.30" width="9.2" height="9.2" fill="none" stroke="#6c3050" stroke-width="1.5"/>
<rect x="198.39" y="445.10" width="9.2" height="9.2" fill="none" stroke="#6c3050" stroke-width="1.5"/>
<rect x="208.82" y="449.60" width="9.2" height="9.2" fill="none" stroke="#6c3050" stroke-width="1.5"/>
<rect x="219.24" y="452.80" width="9.2" height="9.2" fill="none" stroke="#6c3050" stroke-width="1.5"/>
<rect x="229.66" y="455.70" width="9.2" height="9.2" fill="none" stroke="#6c3050" stroke-width="1.5"/>
<rect x="240.08" y="458.00" width="9.2" height="9.2" fill="none" stroke="#6c3050" stroke-width="1.5"/>
<rect x="250.50" y="460.20" width="9.2" height="9.2" fill="none" stroke="#6c3050" stroke-width="1.5"/>
<rect x="260.92" y="461.80" width="9.2" height="9.2" fill="none" stroke="#6c3050" stroke-width="1.5"/>
<rect x="271.34" y="463.20" width="9.2" height="9.2" fill="none" stroke="#6c3050" stroke-width="1.5"/>
<rect x="281.76" y="464.30" width="9.2" height="9.2" fill="none" stroke="#6c3050" stroke-width="1.5"/>
<rect x="292.18" y="465.20" width="9.2" height="9.2" fill="none" stroke="#6c3050" stroke-width="1.5"/>
<rect x="302.60" y="465.75" width="9.2" height="9.2" fill="none" stroke="#6c3050" stroke-width="1.5"/>
<rect x="313.02" y="466.30" width="9.2" height="9.2" fill="none" stroke="#6c3050" stroke-width="1.5"/>
<rect x="323.44" y="466.47" width="9.2" height="9.2" fill="none" stroke="#6c3050" stroke-width="1.5"/>
<rect x="333.86" y="466.63" width="9.2" height="9.2" fill="none" stroke="#6c3050" stroke-width="1.5"/>
<rect x="344.28" y="466.80" width="9.2" height="9.2" fill="none" stroke="#6c3050" stroke-width="1.5"/>
<rect x="354.70" y="466.80" width="9.2" height="9.2" fill="none" stroke="#6c3050" stroke-width="1.5"/>
<rect x="365.12" y="466.80" width="9.2" height="9.2" fill="none" stroke="#6c3050" stroke-width="1.5"/>
<rect x="375.54" y="466.80" width="9.2" height="9.2" fill="none" stroke="#6c3050" stroke-width="1.5"/>
<rect x="385.96" y="466.60" width="9.2" height="9.2" fill="none" stroke="#6c3050" stroke-width="1.5"/>
<rect x="396.38" y="466.40" width="9.2" height="9.2" fill="none" stroke="#6c3050" stroke-width="1.5"/>
<rect x="406.80" y="466.00" width="9.2" height="9.2" fill="none" stroke="#6c3050" stroke-width="1.5"/>
<rect x="417.23" y="465.60" width="9.2" height="9.2" fill="none" stroke="#6c3050" stroke-width="1.5"/>
<rect x="427.65" y="464.30" width="9.2" height="9.2" fill="none" stroke="#6c3050" stroke-width="1.5"/>
<rect x="438.07" y="463.00" width="9.2" height="9.2" fill="none" stroke="#6c3050" stroke-width="1.5"/>
<rect x="448.49" y="461.63" width="9.2" height="9.2" fill="none" stroke="#6c3050" stroke-width="1.5"/>
<rect x="458.91" y="460.27" width="9.2" height="9.2" fill="none" stroke="#6c3050" stroke-width="1.5"/>
<rect x="469.33" y="458.90" width="9.2" height="9.2" fill="none" stroke="#6c3050" stroke-width="1.5"/>
<rect x="479.75" y="457.57" width="9.2" height="9.2" fill="none" stroke="#6c3050" stroke-width="1.5"/>
<rect x="490.17" y="456.23" width="9.2" height="9.2" fill="none" stroke="#6c3050" stroke-width="1.5"/>
<rect x="500.59" y="454.90" width="9.2" height="9.2" fill="none" stroke="#6c3050" stroke-width="1.5"/>
<rect x="511.01" y="453.55" width="9.2" height="9.2" fill="none" stroke="#6c3050" stroke-width="1.5"/>
<rect x="521.43" y="452.20" width="9.2" height="9.2" fill="none" stroke="#6c3050" stroke-width="1.5"/>
<rect x="531.85" y="450.60" width="9.2" height="9.2" fill="none" stroke="#6c3050" stroke-width="1.5"/>
<rect x="542.27" y="449.00" width="9.2" height="9.2" fill="none" stroke="#6c3050" stroke-width="1.5"/>
<rect x="552.69" y="447.20" width="9.2" height="9.2" fill="none" stroke="#6c3050" stroke-width="1.5"/>
<rect x="563.11" y="445.40" width="9.2" height="9.2" fill="none" stroke="#6c3050" stroke-width="1.5"/>
<rect x="573.53" y="443.60" width="9.2" height="9.2" fill="none" stroke="#6c3050" stroke-width="1.5"/>
<rect x="583.95" y="442.00" width="9.2" height="9.2" fill="none" stroke="#6c3050" stroke-width="1.5"/>
<rect x="594.37" y="440.40" width="9.2" height="9.2" fill="none" stroke="#6c3050" stroke-width="1.5"/>
<rect x="604.79" y="437.40" width="9.2" height="9.2" fill="none" stroke="#6c3050" stroke-width="1.5"/>
<rect x="615.21" y="435.20" width="9.2" height="9.2" fill="none" stroke="#6c3050" stroke-width="1.5"/>
<rect x="625.64" y="433.40" width="9.2" height="9.2" fill="none" stroke="#6c3050" stroke-width="1.5"/>
<rect x="636.06" y="432.00" width="9.2" height="9.2" fill="none" stroke="#6c3050" stroke-width="1.5"/>
<rect x="646.48" y="430.40" width="9.2" height="9.2" fill="none" stroke="#6c3050" stroke-width="1.5"/>
<rect x="656.90" y="429.00" width="9.2" height="9.2" fill="none" stroke="#6c3050" stroke-width="1.5"/>
<rect x="667.32" y="427.60" width="9.2" height="9.2" fill="none" stroke="#6c3050" stroke-width="1.5"/>
<rect x="677.74" y="426.50" width="9.2" height="9.2" fill="none" stroke="#6c3050" stroke-width="1.5"/>
<rect x="688.16" y="425.80" width="9.2" height="9.2" fill="none" stroke="#6c3050" stroke-width="1.5"/>
<rect x="698.58" y="425.00" width="9.2" height="9.2" fill="none" stroke="#6c3050" stroke-width="1.5"/>
<rect x="709.00" y="424.50" width="9.2" height="9.2" fill="none" stroke="#6c3050" stroke-width="1.5"/>
<polyline points="109.21,510.10 119.63,393.90 130.05,401.90 140.47,411.10 150.89,419.40 161.31,427.50 171.73,434.10 182.15,439.60 192.57,444.90 202.99,449.70 213.42,454.20 223.84,457.40 234.26,460.30 244.68,462.60 255.10,464.80 265.52,466.40 275.94,467.80 286.36,468.90 296.78,469.80 307.20,470.35 317.62,470.90 328.04,471.07 338.46,471.23 348.88,471.40 359.30,471.40 369.72,471.40 380.14,471.40 390.56,471.20 400.98,471.00 411.40,470.60 421.83,470.20 432.25,468.90 442.67,467.60 453.09,466.23 463.51,464.87 473.93,463.50 484.35,462.17 494.77,460.83 505.19,459.50 515.61,458.15 526.03,456.80 536.45,455.20 546.87,453.60 557.29,451.80 567.71,450.00 578.13,448.20 588.55,446.60 598.97,445.00 609.39,442.00 619.81,439.80 630.24,438.00 640.66,436.60 651.08,435.00 661.50,433.60 671.92,432.20 682.34,431.10 692.76,430.40 703.18,429.60 713.60,429.10" fill="none" stroke="#6c3050" stroke-width="1.6" stroke-dasharray="6.9 4.2 1.5 3.8"/>
<rect x="104.91" y="505.90" width="8.6" height="8.4" fill="#ff7f33"/>
<rect x="115.33" y="390.80" width="8.6" height="8.4" fill="#ff7f33"/>
<rect x="125.75" y="403.80" width="8.6" height="8.4" fill="#ff7f33"/>
<rect x="136.17" y="416.60" width="8.6" height="8.4" fill="#ff7f33"/>
<rect x="146.59" y="427.50" width="8.6" height="8.4" fill="#ff7f33"/>
<rect x="157.01" y="438.80" width="8.6" height="8.4" fill="#ff7f33"/>
<rect x="167.43" y="448.30" width="8.6" height="8.4" fill="#ff7f33"/>
<rect x="177.85" y="457.30" width="8.6" height="8.4" fill="#ff7f33"/>
<rect x="188.27" y="465.30" width="8.6" height="8.4" fill="#ff7f33"/>
<rect x="198.69" y="472.40" width="8.6" height="8.4" fill="#ff7f33"/>
<rect x="209.12" y="477.80" width="8.6" height="8.4" fill="#ff7f33"/>
<rect x="219.54" y="483.10" width="8.6" height="8.4" fill="#ff7f33"/>
<rect x="229.96" y="487.80" width="8.6" height="8.4" fill="#ff7f33"/>
<rect x="240.38" y="491.20" width="8.6" height="8.4" fill="#ff7f33"/>
<rect x="250.80" y="494.50" width="8.6" height="8.4" fill="#ff7f33"/>
<rect x="261.22" y="497.40" width="8.6" height="8.4" fill="#ff7f33"/>
<rect x="271.64" y="499.60" width="8.6" height="8.4" fill="#ff7f33"/>
<rect x="282.06" y="501.20" width="8.6" height="8.4" fill="#ff7f33"/>
<rect x="292.48" y="502.80" width="8.6" height="8.4" fill="#ff7f33"/>
<rect x="302.90" y="504.00" width="8.6" height="8.4" fill="#ff7f33"/>
<rect x="313.32" y="505.10" width="8.6" height="8.4" fill="#ff7f33"/>
<rect x="323.74" y="505.90" width="8.6" height="8.4" fill="#ff7f33"/>
<rect x="334.16" y="506.60" width="8.6" height="8.4" fill="#ff7f33"/>
<rect x="344.58" y="507.00" width="8.6" height="8.4" fill="#ff7f33"/>
<rect x="355.00" y="507.40" width="8.6" height="8.4" fill="#ff7f33"/>
<rect x="365.42" y="507.70" width="8.6" height="8.4" fill="#ff7f33"/>
<rect x="375.84" y="507.90" width="8.6" height="8.4" fill="#ff7f33"/>
<rect x="386.26" y="507.90" width="8.6" height="8.4" fill="#ff7f33"/>
<rect x="396.68" y="507.50" width="8.6" height="8.4" fill="#ff7f33"/>
<rect x="407.10" y="506.80" width="8.6" height="8.4" fill="#ff7f33"/>
<rect x="417.53" y="506.10" width="8.6" height="8.4" fill="#ff7f33"/>
<rect x="427.95" y="505.40" width="8.6" height="8.4" fill="#ff7f33"/>
<rect x="438.37" y="504.70" width="8.6" height="8.4" fill="#ff7f33"/>
<rect x="448.79" y="503.90" width="8.6" height="8.4" fill="#ff7f33"/>
<rect x="459.21" y="502.90" width="8.6" height="8.4" fill="#ff7f33"/>
<rect x="469.63" y="501.80" width="8.6" height="8.4" fill="#ff7f33"/>
<rect x="480.05" y="500.60" width="8.6" height="8.4" fill="#ff7f33"/>
<rect x="490.47" y="499.20" width="8.6" height="8.4" fill="#ff7f33"/>
<rect x="500.89" y="497.70" width="8.6" height="8.4" fill="#ff7f33"/>
<rect x="511.31" y="496.10" width="8.6" height="8.4" fill="#ff7f33"/>
<rect x="521.73" y="494.40" width="8.6" height="8.4" fill="#ff7f33"/>
<rect x="532.15" y="493.00" width="8.6" height="8.4" fill="#ff7f33"/>
<rect x="542.57" y="491.60" width="8.6" height="8.4" fill="#ff7f33"/>
<rect x="552.99" y="489.30" width="8.6" height="8.4" fill="#ff7f33"/>
<rect x="563.41" y="486.60" width="8.6" height="8.4" fill="#ff7f33"/>
<rect x="573.83" y="484.00" width="8.6" height="8.4" fill="#ff7f33"/>
<rect x="584.25" y="481.30" width="8.6" height="8.4" fill="#ff7f33"/>
<rect x="594.67" y="478.40" width="8.6" height="8.4" fill="#ff7f33"/>
<rect x="605.09" y="475.10" width="8.6" height="8.4" fill="#ff7f33"/>
<rect x="615.51" y="472.00" width="8.6" height="8.4" fill="#ff7f33"/>
<rect x="625.94" y="467.90" width="8.6" height="8.4" fill="#ff7f33"/>
<rect x="636.36" y="463.10" width="8.6" height="8.4" fill="#ff7f33"/>
<rect x="646.78" y="458.30" width="8.6" height="8.4" fill="#ff7f33"/>
<rect x="657.20" y="453.80" width="8.6" height="8.4" fill="#ff7f33"/>
<rect x="667.62" y="449.20" width="8.6" height="8.4" fill="#ff7f33"/>
<rect x="678.04" y="444.80" width="8.6" height="8.4" fill="#ff7f33"/>
<rect x="688.46" y="440.20" width="8.6" height="8.4" fill="#ff7f33"/>
<rect x="698.88" y="436.00" width="8.6" height="8.4" fill="#ff7f33"/>
<rect x="709.30" y="432.60" width="8.6" height="8.4" fill="#ff7f33"/>
<polyline points="109.21,510.10 119.63,395.00 130.05,408.00 140.47,420.80 150.89,431.70 161.31,443.00 171.73,452.50 182.15,461.50 192.57,469.50 202.99,476.60 213.42,482.00 223.84,487.30 234.26,492.00 244.68,495.40 255.10,498.70 265.52,501.60 275.94,503.80 286.36,505.40 296.78,507.00 307.20,508.20 317.62,509.30 328.04,510.10 338.46,510.80 348.88,511.20 359.30,511.60 369.72,511.90 380.14,512.10 390.56,512.10 400.98,511.70 411.40,511.00 421.83,510.30 432.25,509.60 442.67,508.90 453.09,508.10 463.51,507.10 473.93,506.00 484.35,504.80 494.77,503.40 505.19,501.90 515.61,500.30 526.03,498.60 536.45,497.20 546.87,495.80 557.29,493.50 567.71,490.80 578.13,488.20 588.55,485.50 598.97,482.60 609.39,479.30 619.81,476.20 630.24,472.10 640.66,467.30 651.08,462.50 661.50,458.00 671.92,453.40 682.34,449.00 692.76,444.40 703.18,440.20 713.60,436.80" fill="none" stroke="#ff7f33" stroke-width="1.6" stroke-dasharray="6.9 4.2 1.5 3.8"/>
<path d="M109.21,482.70 L114.61,493.00 L103.81,493.00 Z" fill="#0000ff"/>
<path d="M119.63,345.50 L125.03,355.80 L114.23,355.80 Z" fill="#0000ff"/>
<path d="M130.05,357.10 L135.45,367.40 L124.65,367.40 Z" fill="#0000ff"/>
<path d="M140.47,369.90 L145.87,380.20 L135.07,380.20 Z" fill="#0000ff"/>
<path d="M150.89,381.40 L156.29,391.70 L145.49,391.70 Z" fill="#0000ff"/>
<path d="M161.31,393.20 L166.71,403.50 L155.91,403.50 Z" fill="#0000ff"/>
<path d="M171.73,403.20 L177.13,413.50 L166.33,413.50 Z" fill="#0000ff"/>
<path d="M182.15,411.90 L187.55,422.20 L176.75,422.20 Z" fill="#0000ff"/>
<path d="M192.57,419.90 L197.97,430.20 L187.17,430.20 Z" fill="#0000ff"/>
<path d="M202.99,426.50 L208.39,436.80 L197.59,436.80 Z" fill="#0000ff"/>
<path d="M213.42,431.60 L218.82,441.90 L208.02,441.90 Z" fill="#0000ff"/>
<path d="M223.84,436.70 L229.24,447.00 L218.44,447.00 Z" fill="#0000ff"/>
<path d="M234.26,441.20 L239.66,451.50 L228.86,451.50 Z" fill="#0000ff"/>
<path d="M244.68,445.20 L250.08,455.50 L239.28,455.50 Z" fill="#0000ff"/>
<path d="M255.10,448.20 L260.50,458.50 L249.70,458.50 Z" fill="#0000ff"/>
<path d="M265.52,450.50 L270.92,460.80 L260.12,460.80 Z" fill="#0000ff"/>
<path d="M275.94,452.60 L281.34,462.90 L270.54,462.90 Z" fill="#0000ff"/>
<path d="M286.36,454.60 L291.76,464.90 L280.96,464.90 Z" fill="#0000ff"/>
<path d="M296.78,456.20 L302.18,466.50 L291.38,466.50 Z" fill="#0000ff"/>
<path d="M307.20,457.50 L312.60,467.80 L301.80,467.80 Z" fill="#0000ff"/>
<path d="M317.62,458.70 L323.02,469.00 L312.22,469.00 Z" fill="#0000ff"/>
<path d="M328.04,459.50 L333.44,469.80 L322.64,469.80 Z" fill="#0000ff"/>
<path d="M338.46,460.20 L343.86,470.50 L333.06,470.50 Z" fill="#0000ff"/>
<path d="M348.88,460.70 L354.28,471.00 L343.48,471.00 Z" fill="#0000ff"/>
<path d="M359.30,460.70 L364.70,471.00 L353.90,471.00 Z" fill="#0000ff"/>
<path d="M369.72,460.50 L375.12,470.80 L364.32,470.80 Z" fill="#0000ff"/>
<path d="M380.14,460.20 L385.54,470.50 L374.74,470.50 Z" fill="#0000ff"/>
<path d="M390.56,459.90 L395.96,470.20 L385.16,470.20 Z" fill="#0000ff"/>
<path d="M400.98,459.60 L406.38,469.90 L395.58,469.90 Z" fill="#0000ff"/>
<path d="M411.40,459.30 L416.80,469.60 L406.00,469.60 Z" fill="#0000ff"/>
<path d="M421.83,458.70 L427.23,469.00 L416.43,469.00 Z" fill="#0000ff"/>
<path d="M432.25,457.70 L437.65,468.00 L426.85,468.00 Z" fill="#0000ff"/>
<path d="M442.67,456.70 L448.07,467.00 L437.27,467.00 Z" fill="#0000ff"/>
<path d="M453.09,455.50 L458.49,465.80 L447.69,465.80 Z" fill="#0000ff"/>
<path d="M463.51,454.30 L468.91,464.60 L458.11,464.60 Z" fill="#0000ff"/>
<path d="M473.93,452.90 L479.33,463.20 L468.53,463.20 Z" fill="#0000ff"/>
<path d="M484.35,451.70 L489.75,462.00 L478.95,462.00 Z" fill="#0000ff"/>
<path d="M494.77,450.10 L500.17,460.40 L489.37,460.40 Z" fill="#0000ff"/>
<path d="M505.19,448.60 L510.59,458.90 L499.79,458.90 Z" fill="#0000ff"/>
<path d="M515.61,446.90 L521.01,457.20 L510.21,457.20 Z" fill="#0000ff"/>
<path d="M526.03,443.90 L531.43,454.20 L520.63,454.20 Z" fill="#0000ff"/>
<path d="M536.45,441.70 L541.85,452.00 L531.05,452.00 Z" fill="#0000ff"/>
<path d="M546.87,439.70 L552.27,450.00 L541.47,450.00 Z" fill="#0000ff"/>
<path d="M557.29,438.70 L562.69,449.00 L551.89,449.00 Z" fill="#0000ff"/>
<path d="M567.71,436.20 L573.11,446.50 L562.31,446.50 Z" fill="#0000ff"/>
<path d="M578.13,432.70 L583.53,443.00 L572.73,443.00 Z" fill="#0000ff"/>
<path d="M588.55,429.70 L593.95,440.00 L583.15,440.00 Z" fill="#0000ff"/>
<path d="M598.97,427.70 L604.37,438.00 L593.57,438.00 Z" fill="#0000ff"/>
<path d="M609.39,425.70 L614.79,436.00 L603.99,436.00 Z" fill="#0000ff"/>
<path d="M619.81,422.70 L625.21,433.00 L614.41,433.00 Z" fill="#0000ff"/>
<path d="M630.24,419.70 L635.64,430.00 L624.84,430.00 Z" fill="#0000ff"/>
<path d="M640.66,416.70 L646.06,427.00 L635.26,427.00 Z" fill="#0000ff"/>
<path d="M651.08,414.30 L656.48,424.60 L645.68,424.60 Z" fill="#0000ff"/>
<path d="M661.50,411.70 L666.90,422.00 L656.10,422.00 Z" fill="#0000ff"/>
<path d="M671.92,407.00 L677.32,417.30 L666.52,417.30 Z" fill="#0000ff"/>
<path d="M682.34,404.20 L687.74,414.50 L676.94,414.50 Z" fill="#0000ff"/>
<path d="M692.76,404.90 L698.16,415.20 L687.36,415.20 Z" fill="#0000ff"/>
<path d="M703.18,403.60 L708.58,413.90 L697.78,413.90 Z" fill="#0000ff"/>
<path d="M713.60,402.30 L719.00,412.60 L708.20,412.60 Z" fill="#0000ff"/>
<polyline points="109.21,488.00 119.63,350.80 130.05,362.40 140.47,375.20 150.89,386.70 161.31,398.50 171.73,408.50 182.15,417.20 192.57,425.20 202.99,431.80 213.42,436.90 223.84,442.00 234.26,446.50 244.68,450.50 255.10,453.50 265.52,455.80 275.94,457.90 286.36,459.90 296.78,461.50 307.20,462.80 317.62,464.00 328.04,464.80 338.46,465.50 348.88,466.00 359.30,466.00 369.72,465.80 380.14,465.50 390.56,465.20 400.98,464.90 411.40,464.60 421.83,464.00 432.25,463.00 442.67,462.00 453.09,460.80 463.51,459.60 473.93,458.20 484.35,457.00 494.77,455.40 505.19,453.90 515.61,452.20 526.03,449.20 536.45,447.00 546.87,445.00 557.29,444.00 567.71,441.50 578.13,438.00 588.55,435.00 598.97,433.00 609.39,431.00 619.81,428.00 630.24,425.00 640.66,422.00 651.08,419.60 661.50,417.00 671.92,412.30 682.34,409.50 692.76,410.20 703.18,408.90 713.60,407.60" fill="none" stroke="#0000ff" stroke-width="1.6" />
</g>
<g clip-path="url(#cBot)">
<path d="M109.21,875.50 L115.21,886.30 L103.21,886.30 Z" fill="none" stroke="#a00020" stroke-width="1.6"/>
<path d="M119.63,755.80 L125.63,766.60 L113.63,766.60 Z" fill="none" stroke="#a00020" stroke-width="1.6"/>
<path d="M130.05,756.20 L136.05,767.00 L124.05,767.00 Z" fill="none" stroke="#a00020" stroke-width="1.6"/>
<path d="M140.47,757.20 L146.47,768.00 L134.47,768.00 Z" fill="none" stroke="#a00020" stroke-width="1.6"/>
<path d="M150.89,757.80 L156.89,768.60 L144.89,768.60 Z" fill="none" stroke="#a00020" stroke-width="1.6"/>
<path d="M161.31,758.60 L167.31,769.40 L155.31,769.40 Z" fill="none" stroke="#a00020" stroke-width="1.6"/>
<path d="M171.73,759.10 L177.73,769.90 L165.73,769.90 Z" fill="none" stroke="#a00020" stroke-width="1.6"/>
<path d="M182.15,759.40 L188.15,770.20 L176.15,770.20 Z" fill="none" stroke="#a00020" stroke-width="1.6"/>
<path d="M192.57,759.70 L198.57,770.50 L186.57,770.50 Z" fill="none" stroke="#a00020" stroke-width="1.6"/>
<path d="M202.99,760.10 L208.99,770.90 L196.99,770.90 Z" fill="none" stroke="#a00020" stroke-width="1.6"/>
<path d="M213.42,760.40 L219.42,771.20 L207.42,771.20 Z" fill="none" stroke="#a00020" stroke-width="1.6"/>
<path d="M223.84,760.80 L229.84,771.60 L217.84,771.60 Z" fill="none" stroke="#a00020" stroke-width="1.6"/>
<path d="M234.26,761.30 L240.26,772.10 L228.26,772.10 Z" fill="none" stroke="#a00020" stroke-width="1.6"/>
<path d="M244.68,762.00 L250.68,772.80 L238.68,772.80 Z" fill="none" stroke="#a00020" stroke-width="1.6"/>
<path d="M255.10,762.50 L261.10,773.30 L249.10,773.30 Z" fill="none" stroke="#a00020" stroke-width="1.6"/>
<path d="M265.52,762.80 L271.52,773.60 L259.52,773.60 Z" fill="none" stroke="#a00020" stroke-width="1.6"/>
<path d="M275.94,762.86 L281.94,773.66 L269.94,773.66 Z" fill="none" stroke="#a00020" stroke-width="1.6"/>
<path d="M286.36,762.92 L292.36,773.72 L280.36,773.72 Z" fill="none" stroke="#a00020" stroke-width="1.6"/>
<path d="M296.78,762.98 L302.78,773.78 L290.78,773.78 Z" fill="none" stroke="#a00020" stroke-width="1.6"/>
<path d="M307.20,763.04 L313.20,773.84 L301.20,773.84 Z" fill="none" stroke="#a00020" stroke-width="1.6"/>
<path d="M317.62,763.10 L323.62,773.90 L311.62,773.90 Z" fill="none" stroke="#a00020" stroke-width="1.6"/>
<path d="M328.04,763.16 L334.04,773.96 L322.04,773.96 Z" fill="none" stroke="#a00020" stroke-width="1.6"/>
<path d="M338.46,763.23 L344.46,774.03 L332.46,774.03 Z" fill="none" stroke="#a00020" stroke-width="1.6"/>
<path d="M348.88,763.29 L354.88,774.09 L342.88,774.09 Z" fill="none" stroke="#a00020" stroke-width="1.6"/>
<path d="M359.30,763.35 L365.30,774.15 L353.30,774.15 Z" fill="none" stroke="#a00020" stroke-width="1.6"/>
<path d="M369.72,763.41 L375.72,774.21 L363.72,774.21 Z" fill="none" stroke="#a00020" stroke-width="1.6"/>
<path d="M380.14,763.48 L386.14,774.28 L374.14,774.28 Z" fill="none" stroke="#a00020" stroke-width="1.6"/>
<path d="M390.56,763.54 L396.56,774.34 L384.56,774.34 Z" fill="none" stroke="#a00020" stroke-width="1.6"/>
<path d="M400.98,763.60 L406.98,774.40 L394.98,774.40 Z" fill="none" stroke="#a00020" stroke-width="1.6"/>
<path d="M411.40,763.61 L417.40,774.41 L405.40,774.41 Z" fill="none" stroke="#a00020" stroke-width="1.6"/>
<path d="M421.83,763.61 L427.83,774.41 L415.83,774.41 Z" fill="none" stroke="#a00020" stroke-width="1.6"/>
<path d="M432.25,763.62 L438.25,774.42 L426.25,774.42 Z" fill="none" stroke="#a00020" stroke-width="1.6"/>
<path d="M442.67,763.63 L448.67,774.43 L436.67,774.43 Z" fill="none" stroke="#a00020" stroke-width="1.6"/>
<path d="M453.09,763.64 L459.09,774.44 L447.09,774.44 Z" fill="none" stroke="#a00020" stroke-width="1.6"/>
<path d="M463.51,763.64 L469.51,774.44 L457.51,774.44 Z" fill="none" stroke="#a00020" stroke-width="1.6"/>
<path d="M473.93,763.65 L479.93,774.45 L467.93,774.45 Z" fill="none" stroke="#a00020" stroke-width="1.6"/>
<path d="M484.35,763.66 L490.35,774.46 L478.35,774.46 Z" fill="none" stroke="#a00020" stroke-width="1.6"/>
<path d="M494.77,763.66 L500.77,774.46 L488.77,774.46 Z" fill="none" stroke="#a00020" stroke-width="1.6"/>
<path d="M505.19,763.67 L511.19,774.47 L499.19,774.47 Z" fill="none" stroke="#a00020" stroke-width="1.6"/>
<path d="M515.61,763.68 L521.61,774.48 L509.61,774.48 Z" fill="none" stroke="#a00020" stroke-width="1.6"/>
<path d="M526.03,763.69 L532.03,774.49 L520.03,774.49 Z" fill="none" stroke="#a00020" stroke-width="1.6"/>
<path d="M536.45,763.69 L542.45,774.49 L530.45,774.49 Z" fill="none" stroke="#a00020" stroke-width="1.6"/>
<path d="M546.87,763.70 L552.87,774.50 L540.87,774.50 Z" fill="none" stroke="#a00020" stroke-width="1.6"/>
<path d="M557.29,763.66 L563.29,774.46 L551.29,774.46 Z" fill="none" stroke="#a00020" stroke-width="1.6"/>
<path d="M567.71,763.62 L573.71,774.42 L561.71,774.42 Z" fill="none" stroke="#a00020" stroke-width="1.6"/>
<path d="M578.13,763.59 L584.13,774.39 L572.13,774.39 Z" fill="none" stroke="#a00020" stroke-width="1.6"/>
<path d="M588.55,763.55 L594.55,774.35 L582.55,774.35 Z" fill="none" stroke="#a00020" stroke-width="1.6"/>
<path d="M598.97,763.51 L604.97,774.31 L592.97,774.31 Z" fill="none" stroke="#a00020" stroke-width="1.6"/>
<path d="M609.39,763.48 L615.39,774.28 L603.39,774.28 Z" fill="none" stroke="#a00020" stroke-width="1.6"/>
<path d="M619.81,763.44 L625.81,774.24 L613.81,774.24 Z" fill="none" stroke="#a00020" stroke-width="1.6"/>
<path d="M630.24,763.40 L636.24,774.20 L624.24,774.20 Z" fill="none" stroke="#a00020" stroke-width="1.6"/>
<path d="M640.66,763.38 L646.66,774.18 L634.66,774.18 Z" fill="none" stroke="#a00020" stroke-width="1.6"/>
<path d="M651.08,763.35 L657.08,774.15 L645.08,774.15 Z" fill="none" stroke="#a00020" stroke-width="1.6"/>
<path d="M661.50,763.32 L667.50,774.12 L655.50,774.12 Z" fill="none" stroke="#a00020" stroke-width="1.6"/>
<path d="M671.92,763.30 L677.92,774.10 L665.92,774.10 Z" fill="none" stroke="#a00020" stroke-width="1.6"/>
<path d="M682.34,763.27 L688.34,774.08 L676.34,774.08 Z" fill="none" stroke="#a00020" stroke-width="1.6"/>
<path d="M692.76,763.25 L698.76,774.05 L686.76,774.05 Z" fill="none" stroke="#a00020" stroke-width="1.6"/>
<path d="M703.18,763.22 L709.18,774.02 L697.18,774.02 Z" fill="none" stroke="#a00020" stroke-width="1.6"/>
<path d="M713.60,763.20 L719.60,774.00 L707.60,774.00 Z" fill="none" stroke="#a00020" stroke-width="1.6"/>
<polyline points="109.21,881.10 119.63,761.40 130.05,761.80 140.47,762.80 150.89,763.40 161.31,764.20 171.73,764.70 182.15,765.00 192.57,765.30 202.99,765.70 213.42,766.00 223.84,766.40 234.26,766.90 244.68,767.60 255.10,768.10 265.52,768.40 275.94,768.46 286.36,768.52 296.78,768.58 307.20,768.64 317.62,768.70 328.04,768.76 338.46,768.83 348.88,768.89 359.30,768.95 369.72,769.01 380.14,769.08 390.56,769.14 400.98,769.20 411.40,769.21 421.83,769.21 432.25,769.22 442.67,769.23 453.09,769.24 463.51,769.24 473.93,769.25 484.35,769.26 494.77,769.26 505.19,769.27 515.61,769.28 526.03,769.29 536.45,769.29 546.87,769.30 557.29,769.26 567.71,769.22 578.13,769.19 588.55,769.15 598.97,769.11 609.39,769.08 619.81,769.04 630.24,769.00 640.66,768.98 651.08,768.95 661.50,768.92 671.92,768.90 682.34,768.88 692.76,768.85 703.18,768.82 713.60,768.80 724.02,1005" fill="none" stroke="#a00020" stroke-width="1.6" />
<rect x="104.61" y="894.90" width="9.2" height="9.2" fill="none" stroke="#6c3050" stroke-width="1.5"/>
<rect x="115.03" y="774.20" width="9.2" height="9.2" fill="none" stroke="#6c3050" stroke-width="1.5"/>
<rect x="125.45" y="774.00" width="9.2" height="9.2" fill="none" stroke="#6c3050" stroke-width="1.5"/>
<rect x="135.87" y="775.10" width="9.2" height="9.2" fill="none" stroke="#6c3050" stroke-width="1.5"/>
<rect x="146.29" y="775.70" width="9.2" height="9.2" fill="none" stroke="#6c3050" stroke-width="1.5"/>
<rect x="156.71" y="777.00" width="9.2" height="9.2" fill="none" stroke="#6c3050" stroke-width="1.5"/>
<rect x="167.13" y="777.70" width="9.2" height="9.2" fill="none" stroke="#6c3050" stroke-width="1.5"/>
<rect x="177.55" y="778.50" width="9.2" height="9.2" fill="none" stroke="#6c3050" stroke-width="1.5"/>
<rect x="187.97" y="779.20" width="9.2" height="9.2" fill="none" stroke="#6c3050" stroke-width="1.5"/>
<rect x="198.39" y="780.20" width="9.2" height="9.2" fill="none" stroke="#6c3050" stroke-width="1.5"/>
<rect x="208.82" y="781.10" width="9.2" height="9.2" fill="none" stroke="#6c3050" stroke-width="1.5"/>
<rect x="219.24" y="781.70" width="9.2" height="9.2" fill="none" stroke="#6c3050" stroke-width="1.5"/>
<rect x="229.66" y="782.20" width="9.2" height="9.2" fill="none" stroke="#6c3050" stroke-width="1.5"/>
<rect x="240.08" y="783.00" width="9.2" height="9.2" fill="none" stroke="#6c3050" stroke-width="1.5"/>
<rect x="250.50" y="783.50" width="9.2" height="9.2" fill="none" stroke="#6c3050" stroke-width="1.5"/>
<rect x="260.92" y="783.70" width="9.2" height="9.2" fill="none" stroke="#6c3050" stroke-width="1.5"/>
<rect x="271.34" y="783.71" width="9.2" height="9.2" fill="none" stroke="#6c3050" stroke-width="1.5"/>
<rect x="281.76" y="783.72" width="9.2" height="9.2" fill="none" stroke="#6c3050" stroke-width="1.5"/>
<rect x="292.18" y="783.72" width="9.2" height="9.2" fill="none" stroke="#6c3050" stroke-width="1.5"/>
<rect x="302.60" y="783.73" width="9.2" height="9.2" fill="none" stroke="#6c3050" stroke-width="1.5"/>
<rect x="313.02" y="783.74" width="9.2" height="9.2" fill="none" stroke="#6c3050" stroke-width="1.5"/>
<rect x="323.44" y="783.75" width="9.2" height="9.2" fill="none" stroke="#6c3050" stroke-width="1.5"/>
<rect x="333.86" y="783.75" width="9.2" height="9.2" fill="none" stroke="#6c3050" stroke-width="1.5"/>
<rect x="344.28" y="783.76" width="9.2" height="9.2" fill="none" stroke="#6c3050" stroke-width="1.5"/>
<rect x="354.70" y="783.77" width="9.2" height="9.2" fill="none" stroke="#6c3050" stroke-width="1.5"/>
<rect x="365.12" y="783.78" width="9.2" height="9.2" fill="none" stroke="#6c3050" stroke-width="1.5"/>
<rect x="375.54" y="783.78" width="9.2" height="9.2" fill="none" stroke="#6c3050" stroke-width="1.5"/>
<rect x="385.96" y="783.79" width="9.2" height="9.2" fill="none" stroke="#6c3050" stroke-width="1.5"/>
<rect x="396.38" y="783.80" width="9.2" height="9.2" fill="none" stroke="#6c3050" stroke-width="1.5"/>
<rect x="406.80" y="784.10" width="9.2" height="9.2" fill="none" stroke="#6c3050" stroke-width="1.5"/>
<rect x="417.23" y="784.40" width="9.2" height="9.2" fill="none" stroke="#6c3050" stroke-width="1.5"/>
<rect x="427.65" y="784.40" width="9.2" height="9.2" fill="none" stroke="#6c3050" stroke-width="1.5"/>
<rect x="438.07" y="784.40" width="9.2" height="9.2" fill="none" stroke="#6c3050" stroke-width="1.5"/>
<rect x="448.49" y="784.40" width="9.2" height="9.2" fill="none" stroke="#6c3050" stroke-width="1.5"/>
<rect x="458.91" y="784.40" width="9.2" height="9.2" fill="none" stroke="#6c3050" stroke-width="1.5"/>
<rect x="469.33" y="784.40" width="9.2" height="9.2" fill="none" stroke="#6c3050" stroke-width="1.5"/>
<rect x="479.75" y="784.40" width="9.2" height="9.2" fill="none" stroke="#6c3050" stroke-width="1.5"/>
<rect x="490.17" y="784.40" width="9.2" height="9.2" fill="none" stroke="#6c3050" stroke-width="1.5"/>
<rect x="500.59" y="784.40" width="9.2" height="9.2" fill="none" stroke="#6c3050" stroke-width="1.5"/>
<rect x="511.01" y="784.40" width="9.2" height="9.2" fill="none" stroke="#6c3050" stroke-width="1.5"/>
<rect x="521.43" y="784.40" width="9.2" height="9.2" fill="none" stroke="#6c3050" stroke-width="1.5"/>
<rect x="531.85" y="784.40" width="9.2" height="9.2" fill="none" stroke="#6c3050" stroke-width="1.5"/>
<rect x="542.27" y="784.40" width="9.2" height="9.2" fill="none" stroke="#6c3050" stroke-width="1.5"/>
<rect x="552.69" y="784.38" width="9.2" height="9.2" fill="none" stroke="#6c3050" stroke-width="1.5"/>
<rect x="563.11" y="784.35" width="9.2" height="9.2" fill="none" stroke="#6c3050" stroke-width="1.5"/>
<rect x="573.53" y="784.32" width="9.2" height="9.2" fill="none" stroke="#6c3050" stroke-width="1.5"/>
<rect x="583.95" y="784.30" width="9.2" height="9.2" fill="none" stroke="#6c3050" stroke-width="1.5"/>
<rect x="594.37" y="784.27" width="9.2" height="9.2" fill="none" stroke="#6c3050" stroke-width="1.5"/>
<rect x="604.79" y="784.25" width="9.2" height="9.2" fill="none" stroke="#6c3050" stroke-width="1.5"/>
<rect x="615.21" y="784.22" width="9.2" height="9.2" fill="none" stroke="#6c3050" stroke-width="1.5"/>
<rect x="625.64" y="784.20" width="9.2" height="9.2" fill="none" stroke="#6c3050" stroke-width="1.5"/>
<rect x="636.06" y="783.90" width="9.2" height="9.2" fill="none" stroke="#6c3050" stroke-width="1.5"/>
<rect x="646.48" y="783.60" width="9.2" height="9.2" fill="none" stroke="#6c3050" stroke-width="1.5"/>
<rect x="656.90" y="783.30" width="9.2" height="9.2" fill="none" stroke="#6c3050" stroke-width="1.5"/>
<rect x="667.32" y="783.10" width="9.2" height="9.2" fill="none" stroke="#6c3050" stroke-width="1.5"/>
<rect x="677.74" y="782.90" width="9.2" height="9.2" fill="none" stroke="#6c3050" stroke-width="1.5"/>
<rect x="688.16" y="782.60" width="9.2" height="9.2" fill="none" stroke="#6c3050" stroke-width="1.5"/>
<rect x="698.58" y="782.30" width="9.2" height="9.2" fill="none" stroke="#6c3050" stroke-width="1.5"/>
<rect x="709.00" y="782.00" width="9.2" height="9.2" fill="none" stroke="#6c3050" stroke-width="1.5"/>
<polyline points="109.21,899.50 119.63,778.80 130.05,778.60 140.47,779.70 150.89,780.30 161.31,781.60 171.73,782.30 182.15,783.10 192.57,783.80 202.99,784.80 213.42,785.70 223.84,786.30 234.26,786.80 244.68,787.60 255.10,788.10 265.52,788.30 275.94,788.31 286.36,788.32 296.78,788.32 307.20,788.33 317.62,788.34 328.04,788.35 338.46,788.35 348.88,788.36 359.30,788.37 369.72,788.38 380.14,788.38 390.56,788.39 400.98,788.40 411.40,788.70 421.83,789.00 432.25,789.00 442.67,789.00 453.09,789.00 463.51,789.00 473.93,789.00 484.35,789.00 494.77,789.00 505.19,789.00 515.61,789.00 526.03,789.00 536.45,789.00 546.87,789.00 557.29,788.98 567.71,788.95 578.13,788.92 588.55,788.90 598.97,788.88 609.39,788.85 619.81,788.82 630.24,788.80 640.66,788.50 651.08,788.20 661.50,787.90 671.92,787.70 682.34,787.50 692.76,787.20 703.18,786.90 713.60,786.60 724.02,1005" fill="none" stroke="#6c3050" stroke-width="1.6" stroke-dasharray="6.9 4.2 1.5 3.8"/>
<rect x="104.91" y="896.10" width="8.6" height="8.4" fill="#ff7f33"/>
<rect x="115.33" y="775.50" width="8.6" height="8.4" fill="#ff7f33"/>
<rect x="125.75" y="778.10" width="8.6" height="8.4" fill="#ff7f33"/>
<rect x="136.17" y="782.60" width="8.6" height="8.4" fill="#ff7f33"/>
<rect x="146.59" y="786.70" width="8.6" height="8.4" fill="#ff7f33"/>
<rect x="157.01" y="791.20" width="8.6" height="8.4" fill="#ff7f33"/>
<rect x="167.43" y="795.20" width="8.6" height="8.4" fill="#ff7f33"/>
<rect x="177.85" y="799.30" width="8.6" height="8.4" fill="#ff7f33"/>
<rect x="188.27" y="804.00" width="8.6" height="8.4" fill="#ff7f33"/>
<rect x="198.69" y="808.10" width="8.6" height="8.4" fill="#ff7f33"/>
<rect x="209.12" y="811.50" width="8.6" height="8.4" fill="#ff7f33"/>
<rect x="219.54" y="814.80" width="8.6" height="8.4" fill="#ff7f33"/>
<rect x="229.96" y="818.20" width="8.6" height="8.4" fill="#ff7f33"/>
<rect x="240.38" y="820.40" width="8.6" height="8.4" fill="#ff7f33"/>
<rect x="250.80" y="823.00" width="8.6" height="8.4" fill="#ff7f33"/>
<rect x="261.22" y="825.20" width="8.6" height="8.4" fill="#ff7f33"/>
<rect x="271.64" y="826.80" width="8.6" height="8.4" fill="#ff7f33"/>
<rect x="282.06" y="828.20" width="8.6" height="8.4" fill="#ff7f33"/>
<rect x="292.48" y="829.40" width="8.6" height="8.4" fill="#ff7f33"/>
<rect x="302.90" y="830.70" width="8.6" height="8.4" fill="#ff7f33"/>
<rect x="313.32" y="832.20" width="8.6" height="8.4" fill="#ff7f33"/>
<rect x="323.74" y="833.40" width="8.6" height="8.4" fill="#ff7f33"/>
<rect x="334.16" y="834.20" width="8.6" height="8.4" fill="#ff7f33"/>
<rect x="344.58" y="834.90" width="8.6" height="8.4" fill="#ff7f33"/>
<rect x="355.00" y="835.40" width="8.6" height="8.4" fill="#ff7f33"/>
<rect x="365.42" y="836.00" width="8.6" height="8.4" fill="#ff7f33"/>
<rect x="375.84" y="836.70" width="8.6" height="8.4" fill="#ff7f33"/>
<rect x="386.26" y="837.10" width="8.6" height="8.4" fill="#ff7f33"/>
<rect x="396.68" y="837.40" width="8.6" height="8.4" fill="#ff7f33"/>
<rect x="407.10" y="837.40" width="8.6" height="8.4" fill="#ff7f33"/>
<rect x="417.53" y="837.40" width="8.6" height="8.4" fill="#ff7f33"/>
<rect x="427.95" y="837.40" width="8.6" height="8.4" fill="#ff7f33"/>
<rect x="438.37" y="837.40" width="8.6" height="8.4" fill="#ff7f33"/>
<rect x="448.79" y="837.40" width="8.6" height="8.4" fill="#ff7f33"/>
<rect x="459.21" y="837.00" width="8.6" height="8.4" fill="#ff7f33"/>
<rect x="469.63" y="836.80" width="8.6" height="8.4" fill="#ff7f33"/>
<rect x="480.05" y="836.60" width="8.6" height="8.4" fill="#ff7f33"/>
<rect x="490.47" y="836.20" width="8.6" height="8.4" fill="#ff7f33"/>
<rect x="500.89" y="835.70" width="8.6" height="8.4" fill="#ff7f33"/>
<rect x="511.31" y="834.80" width="8.6" height="8.4" fill="#ff7f33"/>
<rect x="521.73" y="833.70" width="8.6" height="8.4" fill="#ff7f33"/>
<rect x="532.15" y="832.90" width="8.6" height="8.4" fill="#ff7f33"/>
<rect x="542.57" y="832.00" width="8.6" height="8.4" fill="#ff7f33"/>
<rect x="552.99" y="830.30" width="8.6" height="8.4" fill="#ff7f33"/>
<rect x="563.41" y="828.70" width="8.6" height="8.4" fill="#ff7f33"/>
<rect x="573.83" y="827.00" width="8.6" height="8.4" fill="#ff7f33"/>
<rect x="584.25" y="825.00" width="8.6" height="8.4" fill="#ff7f33"/>
<rect x="594.67" y="823.00" width="8.6" height="8.4" fill="#ff7f33"/>
<rect x="605.09" y="820.90" width="8.6" height="8.4" fill="#ff7f33"/>
<rect x="615.51" y="818.60" width="8.6" height="8.4" fill="#ff7f33"/>
<rect x="625.94" y="815.60" width="8.6" height="8.4" fill="#ff7f33"/>
<rect x="636.36" y="812.20" width="8.6" height="8.4" fill="#ff7f33"/>
<rect x="646.78" y="808.80" width="8.6" height="8.4" fill="#ff7f33"/>
<rect x="657.20" y="805.60" width="8.6" height="8.4" fill="#ff7f33"/>
<rect x="667.62" y="802.00" width="8.6" height="8.4" fill="#ff7f33"/>
<rect x="678.04" y="798.50" width="8.6" height="8.4" fill="#ff7f33"/>
<rect x="688.46" y="795.00" width="8.6" height="8.4" fill="#ff7f33"/>
<rect x="698.88" y="791.70" width="8.6" height="8.4" fill="#ff7f33"/>
<rect x="709.30" y="788.80" width="8.6" height="8.4" fill="#ff7f33"/>
<polyline points="109.21,900.30 119.63,779.70 130.05,782.30 140.47,786.80 150.89,790.90 161.31,795.40 171.73,799.40 182.15,803.50 192.57,808.20 202.99,812.30 213.42,815.70 223.84,819.00 234.26,822.40 244.68,824.60 255.10,827.20 265.52,829.40 275.94,831.00 286.36,832.40 296.78,833.60 307.20,834.90 317.62,836.40 328.04,837.60 338.46,838.40 348.88,839.10 359.30,839.60 369.72,840.20 380.14,840.90 390.56,841.30 400.98,841.60 411.40,841.60 421.83,841.60 432.25,841.60 442.67,841.60 453.09,841.60 463.51,841.20 473.93,841.00 484.35,840.80 494.77,840.40 505.19,839.90 515.61,839.00 526.03,837.90 536.45,837.10 546.87,836.20 557.29,834.50 567.71,832.90 578.13,831.20 588.55,829.20 598.97,827.20 609.39,825.10 619.81,822.80 630.24,819.80 640.66,816.40 651.08,813.00 661.50,809.80 671.92,806.20 682.34,802.70 692.76,799.20 703.18,795.90 713.60,793.00 724.02,1005" fill="none" stroke="#ff7f33" stroke-width="1.6" stroke-dasharray="6.9 4.2 1.5 3.8"/>
<path d="M109.21,866.00 L114.61,876.30 L103.81,876.30 Z" fill="#0000ff"/>
<path d="M119.63,745.50 L125.03,755.80 L114.23,755.80 Z" fill="#0000ff"/>
<path d="M130.05,745.90 L135.45,756.20 L124.65,756.20 Z" fill="#0000ff"/>
<path d="M140.47,748.30 L145.87,758.60 L135.07,758.60 Z" fill="#0000ff"/>
<path d="M150.89,751.00 L156.29,761.30 L145.49,761.30 Z" fill="#0000ff"/>
<path d="M161.31,754.90 L166.71,765.20 L155.91,765.20 Z" fill="#0000ff"/>
<path d="M171.73,757.10 L177.13,767.40 L166.33,767.40 Z" fill="#0000ff"/>
<path d="M182.15,759.30 L187.55,769.60 L176.75,769.60 Z" fill="#0000ff"/>
<path d="M192.57,762.60 L197.97,772.90 L187.17,772.90 Z" fill="#0000ff"/>
<path d="M202.99,764.20 L208.39,774.50 L197.59,774.50 Z" fill="#0000ff"/>
<path d="M213.42,765.40 L218.82,775.70 L208.02,775.70 Z" fill="#0000ff"/>
<path d="M223.84,767.30 L229.24,777.60 L218.44,777.60 Z" fill="#0000ff"/>
<path d="M234.26,769.70 L239.66,780.00 L228.86,780.00 Z" fill="#0000ff"/>
<path d="M244.68,771.70 L250.08,782.00 L239.28,782.00 Z" fill="#0000ff"/>
<path d="M255.10,772.70 L260.50,783.00 L249.70,783.00 Z" fill="#0000ff"/>
<path d="M265.52,772.90 L270.92,783.20 L260.12,783.20 Z" fill="#0000ff"/>
<path d="M275.94,773.30 L281.34,783.60 L270.54,783.60 Z" fill="#0000ff"/>
<path d="M286.36,774.30 L291.76,784.60 L280.96,784.60 Z" fill="#0000ff"/>
<path d="M296.78,775.70 L302.18,786.00 L291.38,786.00 Z" fill="#0000ff"/>
<path d="M307.20,776.30 L312.60,786.60 L301.80,786.60 Z" fill="#0000ff"/>
<path d="M317.62,776.70 L323.02,787.00 L312.22,787.00 Z" fill="#0000ff"/>
<path d="M328.04,777.70 L333.44,788.00 L322.64,788.00 Z" fill="#0000ff"/>
<path d="M338.46,778.00 L343.86,788.30 L333.06,788.30 Z" fill="#0000ff"/>
<path d="M348.88,778.30 L354.28,788.60 L343.48,788.60 Z" fill="#0000ff"/>
<path d="M359.30,778.40 L364.70,788.70 L353.90,788.70 Z" fill="#0000ff"/>
<path d="M369.72,778.60 L375.12,788.90 L364.32,788.90 Z" fill="#0000ff"/>
<path d="M380.14,778.50 L385.54,788.80 L374.74,788.80 Z" fill="#0000ff"/>
<path d="M390.56,778.50 L395.96,788.80 L385.16,788.80 Z" fill="#0000ff"/>
<path d="M400.98,779.00 L406.38,789.30 L395.58,789.30 Z" fill="#0000ff"/>
<path d="M411.40,779.70 L416.80,790.00 L406.00,790.00 Z" fill="#0000ff"/>
<path d="M421.83,780.10 L427.23,790.40 L416.43,790.40 Z" fill="#0000ff"/>
<path d="M432.25,779.60 L437.65,789.90 L426.85,789.90 Z" fill="#0000ff"/>
<path d="M442.67,780.30 L448.07,790.60 L437.27,790.60 Z" fill="#0000ff"/>
<path d="M453.09,779.10 L458.49,789.40 L447.69,789.40 Z" fill="#0000ff"/>
<path d="M463.51,779.30 L468.91,789.60 L458.11,789.60 Z" fill="#0000ff"/>
<path d="M473.93,779.30 L479.33,789.60 L468.53,789.60 Z" fill="#0000ff"/>
<path d="M484.35,779.30 L489.75,789.60 L478.95,789.60 Z" fill="#0000ff"/>
<path d="M494.77,779.30 L500.17,789.60 L489.37,789.60 Z" fill="#0000ff"/>
<path d="M505.19,779.30 L510.59,789.60 L499.79,789.60 Z" fill="#0000ff"/>
<path d="M515.61,779.30 L521.01,789.60 L510.21,789.60 Z" fill="#0000ff"/>
<path d="M526.03,778.00 L531.43,788.30 L520.63,788.30 Z" fill="#0000ff"/>
<path d="M536.45,777.40 L541.85,787.70 L531.05,787.70 Z" fill="#0000ff"/>
<path d="M546.87,776.90 L552.27,787.20 L541.47,787.20 Z" fill="#0000ff"/>
<path d="M557.29,776.70 L562.69,787.00 L551.89,787.00 Z" fill="#0000ff"/>
<path d="M567.71,776.20 L573.11,786.50 L562.31,786.50 Z" fill="#0000ff"/>
<path d="M578.13,774.20 L583.53,784.50 L572.73,784.50 Z" fill="#0000ff"/>
<path d="M588.55,773.20 L593.95,783.50 L583.15,783.50 Z" fill="#0000ff"/>
<path d="M598.97,773.60 L604.37,783.90 L593.57,783.90 Z" fill="#0000ff"/>
<path d="M609.39,772.90 L614.79,783.20 L603.99,783.20 Z" fill="#0000ff"/>
<path d="M619.81,771.70 L625.21,782.00 L614.41,782.00 Z" fill="#0000ff"/>
<path d="M630.24,770.60 L635.64,780.90 L624.84,780.90 Z" fill="#0000ff"/>
<path d="M640.66,770.10 L646.06,780.40 L635.26,780.40 Z" fill="#0000ff"/>
<path d="M651.08,769.70 L656.48,780.00 L645.68,780.00 Z" fill="#0000ff"/>
<path d="M661.50,768.30 L666.90,778.60 L656.10,778.60 Z" fill="#0000ff"/>
<path d="M671.92,766.50 L677.32,776.80 L666.52,776.80 Z" fill="#0000ff"/>
<path d="M682.34,765.00 L687.74,775.30 L676.94,775.30 Z" fill="#0000ff"/>
<path d="M692.76,765.50 L698.16,775.80 L687.36,775.80 Z" fill="#0000ff"/>
<path d="M703.18,764.20 L708.58,774.50 L697.78,774.50 Z" fill="#0000ff"/>
<path d="M713.60,763.70 L719.00,774.00 L708.20,774.00 Z" fill="#0000ff"/>
<polyline points="109.21,871.30 119.63,750.80 130.05,751.20 140.47,753.60 150.89,756.30 161.31,760.20 171.73,762.40 182.15,764.60 192.57,767.90 202.99,769.50 213.42,770.70 223.84,772.60 234.26,775.00 244.68,777.00 255.10,778.00 265.52,778.20 275.94,778.60 286.36,779.60 296.78,781.00 307.20,781.60 317.62,782.00 328.04,783.00 338.46,783.30 348.88,783.60 359.30,783.70 369.72,783.90 380.14,783.80 390.56,783.80 400.98,784.30 411.40,785.00 421.83,785.40 432.25,784.90 442.67,785.60 453.09,784.40 463.51,784.60 473.93,784.60 484.35,784.60 494.77,784.60 505.19,784.60 515.61,784.60 526.03,783.30 536.45,782.70 546.87,782.20 557.29,782.00 567.71,781.50 578.13,779.50 588.55,778.50 598.97,778.90 609.39,778.20 619.81,777.00 630.24,775.90 640.66,775.40 651.08,775.00 661.50,773.60 671.92,771.80 682.34,770.30 692.76,770.80 703.18,769.50 713.60,769.00 724.02,1005" fill="none" stroke="#0000ff" stroke-width="1.6" />
</g>
<rect x="91.0" y="35.0" width="651.0" height="600.0" fill="none" stroke="#000" stroke-width="2"/>
<rect x="91.0" y="635.0" width="651.0" height="321.0" fill="none" stroke="#000" stroke-width="2"/>
<text x="82.5" y="99.9" font-family="Liberation Sans, sans-serif" font-size="22" text-anchor="end">.6</text>
<use href="#one" transform="translate(56.80,99.89) scale(0.0220)"/>
<text x="82.5" y="167.8" font-family="Liberation Sans, sans-serif" font-size="22" text-anchor="end">.4</text>
<use href="#one" transform="translate(57.30,167.77) scale(0.0220)"/>
<text x="82.5" y="235.6" font-family="Liberation Sans, sans-serif" font-size="22" text-anchor="end">.2</text>
<use href="#one" transform="translate(57.30,235.64) scale(0.0220)"/>
<text x="82.5" y="371.4" font-family="Liberation Sans, sans-serif" font-size="22" text-anchor="end">0.8</text>
<text x="82.5" y="439.3" font-family="Liberation Sans, sans-serif" font-size="22" text-anchor="end">0.6</text>
<text x="82.5" y="507.1" font-family="Liberation Sans, sans-serif" font-size="22" text-anchor="end">0.4</text>
<text x="82.5" y="575.0" font-family="Liberation Sans, sans-serif" font-size="22" text-anchor="end">0.2</text>
<use href="#one" transform="translate(78.90,303.51) scale(0.0220)"/>
<clipPath id="c0"><rect x="40" y="620" width="60" height="14"/></clipPath>
<text x="82.5" y="642.9" font-family="Liberation Sans, sans-serif" font-size="22" text-anchor="end" clip-path="url(#c0)">0</text>
<text x="77.0" y="682.5" font-family="Liberation Sans, sans-serif" font-size="23.2" text-anchor="end">2</text>
<text x="747" y="682.5" font-family="Liberation Sans, sans-serif" font-size="23.2">2</text>
<text x="77.0" y="925.2" font-family="Liberation Sans, sans-serif" font-size="23.2" text-anchor="end">0.5</text>
<text x="747" y="925.2" font-family="Liberation Sans, sans-serif" font-size="23.2">0.5</text>
<use href="#one" transform="translate(72.40,805.00) scale(0.0232)"/>
<use href="#one" transform="translate(754.80,805.00) scale(0.0232)"/>
<text x="104.0" y="978.5" font-family="Liberation Sans, sans-serif" font-size="23.5" text-anchor="middle">0</text>
<text x="277.7" y="978.5" font-family="Liberation Sans, sans-serif" font-size="23.5" text-anchor="middle">50</text>
<text x="445.82" y="978.5" font-family="Liberation Sans, sans-serif" font-size="23.5">00</text>
<use href="#one" transform="translate(438.70,978.20) scale(0.0235)"/>
<text x="619.09" y="978.5" font-family="Liberation Sans, sans-serif" font-size="23.5">50</text>
<use href="#one" transform="translate(612.70,978.20) scale(0.0235)"/>
<text font-family="Liberation Sans, sans-serif" font-size="25.8" y="1007.2"><tspan x="590">|</tspan><tspan x="593.3" font-family="Liberation Serif, serif">Δ</tspan><tspan x="614.5" font-family="Liberation Serif, serif">ϕ</tspan><tspan x="628.5">|</tspan><tspan x="640.2">[degrees]</tspan></text>
<text transform="translate(36.4,854) rotate(-90)" font-family="Liberation Sans, sans-serif" font-size="18.2">Ratio to ATLAS</text>
<text transform="translate(759.8,254.2) rotate(-90)" font-family="Liberation Sans, sans-serif" font-size="19" fill="#666">Rivet 4.1.0, ≥ 300k events</text>
<text transform="translate(761.8,628.8) rotate(-90)" font-family="Liberation Sans, sans-serif" font-size="19" fill="#666">mcplots.cern.ch [arXiv:1306.3436]</text>
<text x="415" y="603.7" font-family="Liberation Sans, sans-serif" font-size="15.9" fill="#909090" text-anchor="middle">(ATLAS_2017_I1509919)</text>
<rect x="147.89999999999998" y="119.2" width="10.6" height="10.6" fill="#000"/>
<line x1="128.80" y1="150.20" x2="177.30" y2="150.20" stroke="#a00020" stroke-width="1.6" />
<path d="M153.20,144.60 L159.20,155.40 L147.20,155.40 Z" fill="none" stroke="#a00020" stroke-width="1.6"/>
<line x1="128.80" y1="150.20" x2="177.30" y2="150.20" stroke="#a00020" stroke-width="1.6" />
<line x1="128.80" y1="176.50" x2="177.30" y2="176.50" stroke="#6c3050" stroke-width="1.6" stroke-dasharray="6.9 4.2 1.5 3.8"/>
<rect x="148.60" y="171.90" width="9.2" height="9.2" fill="none" stroke="#6c3050" stroke-width="1.5"/>
<line x1="128.80" y1="202.40" x2="177.30" y2="202.40" stroke="#ff7f33" stroke-width="1.6" stroke-dasharray="6.9 4.2 1.5 3.8"/>
<rect x="148.90" y="198.20" width="8.6" height="8.4" fill="#ff7f33"/>
<line x1="128.80" y1="228.40" x2="177.30" y2="228.40" stroke="#0000ff" stroke-width="1.6" />
<path d="M153.20,223.10 L158.60,233.40 L147.80,233.40 Z" fill="#0000ff"/>
<text x="187.5" y="129.5" font-family="Liberation Sans, sans-serif" font-size="19">ATLAS</text>
<text x="187.5" y="155.7" font-family="Liberation Sans, sans-serif" font-size="19">Pythia 6.428 370</text>
<text x="187.5" y="182.7" font-family="Liberation Sans, sans-serif" font-size="19">Pythia 6.428 391</text>
<text x="187.5" y="208.8" font-family="Liberation Sans, sans-serif" font-size="19">Pythia 6.428 default</text>
<text x="187.5" y="233.8" font-family="Liberation Sans, sans-serif" font-size="19">Pythia 8.186 default</text>
<g transform="translate(24.3,0) rotate(-90)">
<text font-family="Liberation Sans, sans-serif" font-size="24" x="-239.5" y="0">#</text>
<use href="#sigma" transform="translate(-211.3,-24.6) scale(1.03)"/>
<text font-family="Liberation Sans, sans-serif" font-size="24" x="-174.2" y="0">p</text>
<text font-family="Liberation Sans, sans-serif" font-size="16.5" x="-162.6" y="21.4">T</text>
<text font-family="Liberation Sans, sans-serif" font-size="24" x="-145.2" y="0">/</text>
<text font-family="Liberation Serif, serif" font-size="24" x="-133" y="0">δη</text>
<text font-family="Liberation Sans, sans-serif" font-size="24" x="-106" y="0">#</text>
<text font-family="Liberation Serif, serif" font-size="24" x="-87" y="0">δϕ</text>
<text font-family="Liberation Sans, sans-serif" font-size="24" x="-56" y="0">#</text>
</g>
<polyline points="6.1,219.3 16.6,224.3 27.6,219.3" fill="none" stroke="#000" stroke-width="1.3"/>
<polyline points="6.1,41.6 16.6,35.6 27.6,41.6" fill="none" stroke="#000" stroke-width="1.3"/>
</svg></body></html>
